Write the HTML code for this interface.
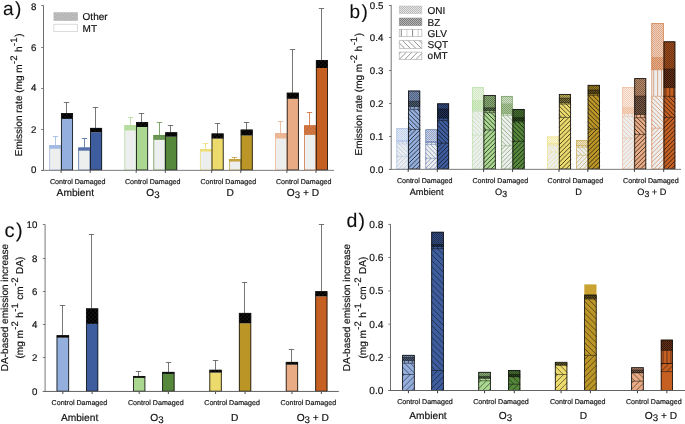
<!DOCTYPE html>
<html><head><meta charset="utf-8"><title>Figure</title>
<style>html,body{margin:0;padding:0;background:#fff}svg{display:block}text{font-family:"Liberation Sans",sans-serif}</style>
</head><body>
<svg width="685" height="424" viewBox="0 0 685 424">
<rect width="685" height="424" fill="#ffffff"/>
<defs>
<filter id="tb" x="-5%" y="-5%" width="110%" height="110%"><feGaussianBlur stdDeviation="0.3"/></filter>
<filter id="gb" filterUnits="userSpaceOnUse" x="0" y="0" width="685" height="424"><feGaussianBlur stdDeviation="0.35"/></filter>
<pattern id="p1" width="4" height="4" patternUnits="userSpaceOnUse"><rect width="4" height="4" fill="#94AFDE"/><circle cx="1" cy="1" r="0.36" fill="#ffffff"/><circle cx="3" cy="3" r="0.36" fill="#ffffff"/></pattern>
<pattern id="p2" width="4" height="4" patternUnits="userSpaceOnUse"><rect width="4" height="4" fill="#050505"/><circle cx="1" cy="1" r="0.33" fill="#94AFDE"/><circle cx="3" cy="3" r="0.33" fill="#94AFDE"/></pattern>
<pattern id="p3" width="4" height="4" patternUnits="userSpaceOnUse"><rect width="4" height="4" fill="#3E5D9E"/><circle cx="1" cy="1" r="0.36" fill="#ffffff"/><circle cx="3" cy="3" r="0.36" fill="#ffffff"/></pattern>
<pattern id="p4" width="4" height="4" patternUnits="userSpaceOnUse"><rect width="4" height="4" fill="#050505"/><circle cx="1" cy="1" r="0.33" fill="#3E5D9E"/><circle cx="3" cy="3" r="0.33" fill="#3E5D9E"/></pattern>
<pattern id="p5" width="4" height="4" patternUnits="userSpaceOnUse"><rect width="4" height="4" fill="#ABD891"/><circle cx="1" cy="1" r="0.36" fill="#ffffff"/><circle cx="3" cy="3" r="0.36" fill="#ffffff"/></pattern>
<pattern id="p6" width="4" height="4" patternUnits="userSpaceOnUse"><rect width="4" height="4" fill="#050505"/><circle cx="1" cy="1" r="0.33" fill="#ABD891"/><circle cx="3" cy="3" r="0.33" fill="#ABD891"/></pattern>
<pattern id="p7" width="4" height="4" patternUnits="userSpaceOnUse"><rect width="4" height="4" fill="#55883A"/><circle cx="1" cy="1" r="0.36" fill="#ffffff"/><circle cx="3" cy="3" r="0.36" fill="#ffffff"/></pattern>
<pattern id="p8" width="4" height="4" patternUnits="userSpaceOnUse"><rect width="4" height="4" fill="#050505"/><circle cx="1" cy="1" r="0.33" fill="#55883A"/><circle cx="3" cy="3" r="0.33" fill="#55883A"/></pattern>
<pattern id="p9" width="4" height="4" patternUnits="userSpaceOnUse"><rect width="4" height="4" fill="#ECDA6C"/><circle cx="1" cy="1" r="0.36" fill="#ffffff"/><circle cx="3" cy="3" r="0.36" fill="#ffffff"/></pattern>
<pattern id="p10" width="4" height="4" patternUnits="userSpaceOnUse"><rect width="4" height="4" fill="#050505"/><circle cx="1" cy="1" r="0.33" fill="#ECDA6C"/><circle cx="3" cy="3" r="0.33" fill="#ECDA6C"/></pattern>
<pattern id="p11" width="4" height="4" patternUnits="userSpaceOnUse"><rect width="4" height="4" fill="#BB9627"/><circle cx="1" cy="1" r="0.36" fill="#ffffff"/><circle cx="3" cy="3" r="0.36" fill="#ffffff"/></pattern>
<pattern id="p12" width="4" height="4" patternUnits="userSpaceOnUse"><rect width="4" height="4" fill="#050505"/><circle cx="1" cy="1" r="0.33" fill="#BB9627"/><circle cx="3" cy="3" r="0.33" fill="#BB9627"/></pattern>
<pattern id="p13" width="4" height="4" patternUnits="userSpaceOnUse"><rect width="4" height="4" fill="#E9AB84"/><circle cx="1" cy="1" r="0.36" fill="#ffffff"/><circle cx="3" cy="3" r="0.36" fill="#ffffff"/></pattern>
<pattern id="p14" width="4" height="4" patternUnits="userSpaceOnUse"><rect width="4" height="4" fill="#050505"/><circle cx="1" cy="1" r="0.33" fill="#E9AB84"/><circle cx="3" cy="3" r="0.33" fill="#E9AB84"/></pattern>
<pattern id="p15" width="4" height="4" patternUnits="userSpaceOnUse"><rect width="4" height="4" fill="#C65F22"/><circle cx="1" cy="1" r="0.36" fill="#ffffff"/><circle cx="3" cy="3" r="0.36" fill="#ffffff"/></pattern>
<pattern id="p16" width="4" height="4" patternUnits="userSpaceOnUse"><rect width="4" height="4" fill="#050505"/><circle cx="1" cy="1" r="0.33" fill="#C65F22"/><circle cx="3" cy="3" r="0.33" fill="#C65F22"/></pattern>
<pattern id="p17" width="3.2" height="3.2" patternUnits="userSpaceOnUse"><rect width="3.2" height="3.2" fill="#c0c0c0"/><circle cx="0.8" cy="0.8" r="0.5" fill="#8c8c8c"/><circle cx="2.4" cy="2.4" r="0.5" fill="#8c8c8c"/></pattern>
<pattern id="p18" width="2" height="2" patternUnits="userSpaceOnUse"><path d="M0,0h1v1h-1z M1,1h1v1h-1z" fill="#94AFDE" fill-opacity="0.56"/><path d="M1,0h1v1h-1z M0,1h1v1h-1z" fill="#94AFDE" fill-opacity="0.28"/></pattern>
<pattern id="p19" width="2" height="2" patternUnits="userSpaceOnUse"><path d="M0,0h1v1h-1z M1,1h1v1h-1z" fill="#94AFDE" fill-opacity="0.76"/><path d="M1,0h1v1h-1z M0,1h1v1h-1z" fill="#94AFDE" fill-opacity="0.5"/></pattern>
<pattern id="p20" width="2" height="2" patternUnits="userSpaceOnUse"><path d="M0,0h1v1h-1z M1,1h1v1h-1z" fill="#000" fill-opacity="0.45"/><path d="M1,0h1v1h-1z M0,1h1v1h-1z" fill="#000" fill-opacity="0.2"/></pattern>
<pattern id="p21" width="2" height="2" patternUnits="userSpaceOnUse"><path d="M0,0h1v1h-1z M1,1h1v1h-1z" fill="#000" fill-opacity="0.74"/><path d="M1,0h1v1h-1z M0,1h1v1h-1z" fill="#000" fill-opacity="0.46"/></pattern>
<pattern id="p22" width="2" height="2" patternUnits="userSpaceOnUse"><path d="M0,0h1v1h-1z M1,1h1v1h-1z" fill="#3E5D9E" fill-opacity="0.56"/><path d="M1,0h1v1h-1z M0,1h1v1h-1z" fill="#3E5D9E" fill-opacity="0.28"/></pattern>
<pattern id="p23" width="2" height="2" patternUnits="userSpaceOnUse"><path d="M0,0h1v1h-1z M1,1h1v1h-1z" fill="#3E5D9E" fill-opacity="0.76"/><path d="M1,0h1v1h-1z M0,1h1v1h-1z" fill="#3E5D9E" fill-opacity="0.5"/></pattern>
<pattern id="p24" width="2" height="2" patternUnits="userSpaceOnUse"><path d="M0,0h1v1h-1z M1,1h1v1h-1z" fill="#000" fill-opacity="0.45"/><path d="M1,0h1v1h-1z M0,1h1v1h-1z" fill="#000" fill-opacity="0.2"/></pattern>
<pattern id="p25" width="2" height="2" patternUnits="userSpaceOnUse"><path d="M0,0h1v1h-1z M1,1h1v1h-1z" fill="#000" fill-opacity="0.74"/><path d="M1,0h1v1h-1z M0,1h1v1h-1z" fill="#000" fill-opacity="0.46"/></pattern>
<pattern id="p26" width="2" height="2" patternUnits="userSpaceOnUse"><path d="M0,0h1v1h-1z M1,1h1v1h-1z" fill="#ABD891" fill-opacity="0.56"/><path d="M1,0h1v1h-1z M0,1h1v1h-1z" fill="#ABD891" fill-opacity="0.28"/></pattern>
<pattern id="p27" width="2" height="2" patternUnits="userSpaceOnUse"><path d="M0,0h1v1h-1z M1,1h1v1h-1z" fill="#ABD891" fill-opacity="0.76"/><path d="M1,0h1v1h-1z M0,1h1v1h-1z" fill="#ABD891" fill-opacity="0.5"/></pattern>
<pattern id="p28" width="2" height="2" patternUnits="userSpaceOnUse"><path d="M0,0h1v1h-1z M1,1h1v1h-1z" fill="#000" fill-opacity="0.45"/><path d="M1,0h1v1h-1z M0,1h1v1h-1z" fill="#000" fill-opacity="0.2"/></pattern>
<pattern id="p29" width="2" height="2" patternUnits="userSpaceOnUse"><path d="M0,0h1v1h-1z M1,1h1v1h-1z" fill="#000" fill-opacity="0.74"/><path d="M1,0h1v1h-1z M0,1h1v1h-1z" fill="#000" fill-opacity="0.46"/></pattern>
<pattern id="p30" width="2" height="2" patternUnits="userSpaceOnUse"><path d="M0,0h1v1h-1z M1,1h1v1h-1z" fill="#55883A" fill-opacity="0.56"/><path d="M1,0h1v1h-1z M0,1h1v1h-1z" fill="#55883A" fill-opacity="0.28"/></pattern>
<pattern id="p31" width="2" height="2" patternUnits="userSpaceOnUse"><path d="M0,0h1v1h-1z M1,1h1v1h-1z" fill="#55883A" fill-opacity="0.76"/><path d="M1,0h1v1h-1z M0,1h1v1h-1z" fill="#55883A" fill-opacity="0.5"/></pattern>
<pattern id="p32" width="2" height="2" patternUnits="userSpaceOnUse"><path d="M0,0h1v1h-1z M1,1h1v1h-1z" fill="#000" fill-opacity="0.45"/><path d="M1,0h1v1h-1z M0,1h1v1h-1z" fill="#000" fill-opacity="0.2"/></pattern>
<pattern id="p33" width="2" height="2" patternUnits="userSpaceOnUse"><path d="M0,0h1v1h-1z M1,1h1v1h-1z" fill="#000" fill-opacity="0.74"/><path d="M1,0h1v1h-1z M0,1h1v1h-1z" fill="#000" fill-opacity="0.46"/></pattern>
<pattern id="p34" width="2" height="2" patternUnits="userSpaceOnUse"><path d="M0,0h1v1h-1z M1,1h1v1h-1z" fill="#ECDA6C" fill-opacity="0.56"/><path d="M1,0h1v1h-1z M0,1h1v1h-1z" fill="#ECDA6C" fill-opacity="0.28"/></pattern>
<pattern id="p35" width="2" height="2" patternUnits="userSpaceOnUse"><path d="M0,0h1v1h-1z M1,1h1v1h-1z" fill="#ECDA6C" fill-opacity="0.76"/><path d="M1,0h1v1h-1z M0,1h1v1h-1z" fill="#ECDA6C" fill-opacity="0.5"/></pattern>
<pattern id="p36" width="2" height="2" patternUnits="userSpaceOnUse"><path d="M0,0h1v1h-1z M1,1h1v1h-1z" fill="#000" fill-opacity="0.45"/><path d="M1,0h1v1h-1z M0,1h1v1h-1z" fill="#000" fill-opacity="0.2"/></pattern>
<pattern id="p37" width="2" height="2" patternUnits="userSpaceOnUse"><path d="M0,0h1v1h-1z M1,1h1v1h-1z" fill="#000" fill-opacity="0.74"/><path d="M1,0h1v1h-1z M0,1h1v1h-1z" fill="#000" fill-opacity="0.46"/></pattern>
<pattern id="p38" width="2" height="2" patternUnits="userSpaceOnUse"><path d="M0,0h1v1h-1z M1,1h1v1h-1z" fill="#BB9627" fill-opacity="0.56"/><path d="M1,0h1v1h-1z M0,1h1v1h-1z" fill="#BB9627" fill-opacity="0.28"/></pattern>
<pattern id="p39" width="2" height="2" patternUnits="userSpaceOnUse"><path d="M0,0h1v1h-1z M1,1h1v1h-1z" fill="#BB9627" fill-opacity="0.76"/><path d="M1,0h1v1h-1z M0,1h1v1h-1z" fill="#BB9627" fill-opacity="0.5"/></pattern>
<pattern id="p40" width="2" height="2" patternUnits="userSpaceOnUse"><path d="M0,0h1v1h-1z M1,1h1v1h-1z" fill="#000" fill-opacity="0.45"/><path d="M1,0h1v1h-1z M0,1h1v1h-1z" fill="#000" fill-opacity="0.2"/></pattern>
<pattern id="p41" width="2" height="2" patternUnits="userSpaceOnUse"><path d="M0,0h1v1h-1z M1,1h1v1h-1z" fill="#000" fill-opacity="0.74"/><path d="M1,0h1v1h-1z M0,1h1v1h-1z" fill="#000" fill-opacity="0.46"/></pattern>
<pattern id="p42" width="2" height="2" patternUnits="userSpaceOnUse"><path d="M0,0h1v1h-1z M1,1h1v1h-1z" fill="#E9AB84" fill-opacity="0.56"/><path d="M1,0h1v1h-1z M0,1h1v1h-1z" fill="#E9AB84" fill-opacity="0.28"/></pattern>
<pattern id="p43" width="2" height="2" patternUnits="userSpaceOnUse"><path d="M0,0h1v1h-1z M1,1h1v1h-1z" fill="#E9AB84" fill-opacity="0.76"/><path d="M1,0h1v1h-1z M0,1h1v1h-1z" fill="#E9AB84" fill-opacity="0.5"/></pattern>
<pattern id="p44" width="2" height="2" patternUnits="userSpaceOnUse"><path d="M0,0h1v1h-1z M1,1h1v1h-1z" fill="#000" fill-opacity="0.45"/><path d="M1,0h1v1h-1z M0,1h1v1h-1z" fill="#000" fill-opacity="0.2"/></pattern>
<pattern id="p45" width="2" height="2" patternUnits="userSpaceOnUse"><path d="M0,0h1v1h-1z M1,1h1v1h-1z" fill="#000" fill-opacity="0.74"/><path d="M1,0h1v1h-1z M0,1h1v1h-1z" fill="#000" fill-opacity="0.46"/></pattern>
<pattern id="p46" width="2" height="2" patternUnits="userSpaceOnUse"><path d="M0,0h1v1h-1z M1,1h1v1h-1z" fill="#C65F22" fill-opacity="0.56"/><path d="M1,0h1v1h-1z M0,1h1v1h-1z" fill="#C65F22" fill-opacity="0.28"/></pattern>
<pattern id="p47" width="2" height="2" patternUnits="userSpaceOnUse"><path d="M0,0h1v1h-1z M1,1h1v1h-1z" fill="#C65F22" fill-opacity="0.76"/><path d="M1,0h1v1h-1z M0,1h1v1h-1z" fill="#C65F22" fill-opacity="0.5"/></pattern>
<pattern id="p48" width="2" height="2" patternUnits="userSpaceOnUse"><path d="M0,0h1v1h-1z M1,1h1v1h-1z" fill="#000" fill-opacity="0.45"/><path d="M1,0h1v1h-1z M0,1h1v1h-1z" fill="#000" fill-opacity="0.2"/></pattern>
<pattern id="p49" width="2" height="2" patternUnits="userSpaceOnUse"><path d="M0,0h1v1h-1z M1,1h1v1h-1z" fill="#000" fill-opacity="0.74"/><path d="M1,0h1v1h-1z M0,1h1v1h-1z" fill="#000" fill-opacity="0.46"/></pattern>
<pattern id="p50" width="2" height="2" patternUnits="userSpaceOnUse"><path d="M0,0h1v1h-1z M1,1h1v1h-1z" fill="#000" fill-opacity="0.27"/><path d="M1,0h1v1h-1z M0,1h1v1h-1z" fill="#000" fill-opacity="0.1"/></pattern>
<pattern id="p51" width="2" height="2" patternUnits="userSpaceOnUse"><path d="M0,0h1v1h-1z M1,1h1v1h-1z" fill="#000" fill-opacity="0.52"/><path d="M1,0h1v1h-1z M0,1h1v1h-1z" fill="#000" fill-opacity="0.28"/></pattern>
<pattern id="p52" width="4" height="4" patternUnits="userSpaceOnUse"><rect width="4" height="4" fill="#050505"/><circle cx="1" cy="1" r="0.33" fill="#94AFDE"/><circle cx="3" cy="3" r="0.33" fill="#94AFDE"/></pattern>
<pattern id="p53" width="4" height="4" patternUnits="userSpaceOnUse"><rect width="4" height="4" fill="#050505"/><circle cx="1" cy="1" r="0.33" fill="#3E5D9E"/><circle cx="3" cy="3" r="0.33" fill="#3E5D9E"/></pattern>
<pattern id="p54" width="4" height="4" patternUnits="userSpaceOnUse"><rect width="4" height="4" fill="#050505"/><circle cx="1" cy="1" r="0.33" fill="#ABD891"/><circle cx="3" cy="3" r="0.33" fill="#ABD891"/></pattern>
<pattern id="p55" width="4" height="4" patternUnits="userSpaceOnUse"><rect width="4" height="4" fill="#050505"/><circle cx="1" cy="1" r="0.33" fill="#55883A"/><circle cx="3" cy="3" r="0.33" fill="#55883A"/></pattern>
<pattern id="p56" width="4" height="4" patternUnits="userSpaceOnUse"><rect width="4" height="4" fill="#050505"/><circle cx="1" cy="1" r="0.33" fill="#ECDA6C"/><circle cx="3" cy="3" r="0.33" fill="#ECDA6C"/></pattern>
<pattern id="p57" width="4" height="4" patternUnits="userSpaceOnUse"><rect width="4" height="4" fill="#050505"/><circle cx="1" cy="1" r="0.33" fill="#BB9627"/><circle cx="3" cy="3" r="0.33" fill="#BB9627"/></pattern>
<pattern id="p58" width="4" height="4" patternUnits="userSpaceOnUse"><rect width="4" height="4" fill="#050505"/><circle cx="1" cy="1" r="0.33" fill="#E9AB84"/><circle cx="3" cy="3" r="0.33" fill="#E9AB84"/></pattern>
<pattern id="p59" width="4" height="4" patternUnits="userSpaceOnUse"><rect width="4" height="4" fill="#050505"/><circle cx="1" cy="1" r="0.33" fill="#C65F22"/><circle cx="3" cy="3" r="0.33" fill="#C65F22"/></pattern>
<pattern id="p60" width="2" height="2" patternUnits="userSpaceOnUse"><path d="M0,0h1v1h-1z M1,1h1v1h-1z" fill="#000" fill-opacity="0.45"/><path d="M1,0h1v1h-1z M0,1h1v1h-1z" fill="#000" fill-opacity="0.2"/></pattern>
<pattern id="p61" width="2" height="2" patternUnits="userSpaceOnUse"><path d="M0,0h1v1h-1z M1,1h1v1h-1z" fill="#000" fill-opacity="0.74"/><path d="M1,0h1v1h-1z M0,1h1v1h-1z" fill="#000" fill-opacity="0.46"/></pattern>
<pattern id="p62" width="2" height="2" patternUnits="userSpaceOnUse"><path d="M0,0h1v1h-1z M1,1h1v1h-1z" fill="#000" fill-opacity="0.45"/><path d="M1,0h1v1h-1z M0,1h1v1h-1z" fill="#000" fill-opacity="0.2"/></pattern>
<pattern id="p63" width="2" height="2" patternUnits="userSpaceOnUse"><path d="M0,0h1v1h-1z M1,1h1v1h-1z" fill="#000" fill-opacity="0.74"/><path d="M1,0h1v1h-1z M0,1h1v1h-1z" fill="#000" fill-opacity="0.46"/></pattern>
<pattern id="p64" width="2" height="2" patternUnits="userSpaceOnUse"><path d="M0,0h1v1h-1z M1,1h1v1h-1z" fill="#000" fill-opacity="0.45"/><path d="M1,0h1v1h-1z M0,1h1v1h-1z" fill="#000" fill-opacity="0.2"/></pattern>
<pattern id="p65" width="2" height="2" patternUnits="userSpaceOnUse"><path d="M0,0h1v1h-1z M1,1h1v1h-1z" fill="#000" fill-opacity="0.74"/><path d="M1,0h1v1h-1z M0,1h1v1h-1z" fill="#000" fill-opacity="0.46"/></pattern>
<pattern id="p66" width="2" height="2" patternUnits="userSpaceOnUse"><path d="M0,0h1v1h-1z M1,1h1v1h-1z" fill="#000" fill-opacity="0.45"/><path d="M1,0h1v1h-1z M0,1h1v1h-1z" fill="#000" fill-opacity="0.2"/></pattern>
<pattern id="p67" width="2" height="2" patternUnits="userSpaceOnUse"><path d="M0,0h1v1h-1z M1,1h1v1h-1z" fill="#000" fill-opacity="0.74"/><path d="M1,0h1v1h-1z M0,1h1v1h-1z" fill="#000" fill-opacity="0.46"/></pattern>
<pattern id="p68" width="2" height="2" patternUnits="userSpaceOnUse"><path d="M0,0h1v1h-1z M1,1h1v1h-1z" fill="#000" fill-opacity="0.45"/><path d="M1,0h1v1h-1z M0,1h1v1h-1z" fill="#000" fill-opacity="0.2"/></pattern>
<pattern id="p69" width="2" height="2" patternUnits="userSpaceOnUse"><path d="M0,0h1v1h-1z M1,1h1v1h-1z" fill="#000" fill-opacity="0.74"/><path d="M1,0h1v1h-1z M0,1h1v1h-1z" fill="#000" fill-opacity="0.46"/></pattern>
<pattern id="p70" width="2" height="2" patternUnits="userSpaceOnUse"><path d="M0,0h1v1h-1z M1,1h1v1h-1z" fill="#000" fill-opacity="0.74"/><path d="M1,0h1v1h-1z M0,1h1v1h-1z" fill="#000" fill-opacity="0.46"/></pattern>
<pattern id="p71" width="2" height="2" patternUnits="userSpaceOnUse"><path d="M0,0h1v1h-1z M1,1h1v1h-1z" fill="#000" fill-opacity="0.45"/><path d="M1,0h1v1h-1z M0,1h1v1h-1z" fill="#000" fill-opacity="0.2"/></pattern>
<pattern id="p72" width="2" height="2" patternUnits="userSpaceOnUse"><path d="M0,0h1v1h-1z M1,1h1v1h-1z" fill="#000" fill-opacity="0.74"/><path d="M1,0h1v1h-1z M0,1h1v1h-1z" fill="#000" fill-opacity="0.46"/></pattern>
<pattern id="p73" width="2" height="2" patternUnits="userSpaceOnUse"><path d="M0,0h1v1h-1z M1,1h1v1h-1z" fill="#000" fill-opacity="0.74"/><path d="M1,0h1v1h-1z M0,1h1v1h-1z" fill="#000" fill-opacity="0.46"/></pattern>
</defs>
<g filter="url(#gb)">
<g opacity="0.93">
<line x1="55.50" y1="136.50" x2="55.50" y2="145.30" stroke="#94AFDE" stroke-width="0.8" />
<line x1="52.80" y1="136.50" x2="58.20" y2="136.50" stroke="#94AFDE" stroke-width="0.8" />
<rect x="49.40" y="148.80" width="11.80" height="21.20" fill="#ECEDED" />
<rect x="49.40" y="145.30" width="11.80" height="3.50" fill="url(#p1)" opacity="0.97"/>
<rect x="49.70" y="145.60" width="11.20" height="24.40" fill="none" stroke="#94AFDE" stroke-width="0.7" />
</g>
<line x1="66.50" y1="102.50" x2="66.50" y2="113.20" stroke="#4a4a4a" stroke-width="0.75" />
<line x1="63.80" y1="102.50" x2="69.20" y2="102.50" stroke="#4a4a4a" stroke-width="0.75" />
<rect x="61.10" y="118.90" width="11.80" height="51.10" fill="#94AFDE" />
<rect x="61.10" y="113.20" width="11.80" height="5.70" fill="url(#p2)" />
<rect x="61.40" y="113.50" width="11.20" height="56.50" fill="none" stroke="#151515" stroke-width="0.85" />
<g opacity="0.93">
<line x1="84.50" y1="138.50" x2="84.50" y2="147.60" stroke="#3E5D9E" stroke-width="0.8" />
<line x1="81.80" y1="138.50" x2="87.20" y2="138.50" stroke="#3E5D9E" stroke-width="0.8" />
<rect x="78.40" y="150.70" width="11.80" height="19.30" fill="#ECEDED" />
<rect x="78.40" y="147.60" width="11.80" height="3.10" fill="url(#p3)" opacity="0.97"/>
<rect x="78.70" y="147.90" width="11.20" height="22.10" fill="none" stroke="#3E5D9E" stroke-width="0.7" />
</g>
<line x1="95.50" y1="107.50" x2="95.50" y2="128.00" stroke="#4a4a4a" stroke-width="0.75" />
<line x1="92.80" y1="107.50" x2="98.20" y2="107.50" stroke="#4a4a4a" stroke-width="0.75" />
<rect x="90.20" y="132.30" width="11.80" height="37.70" fill="#3E5D9E" />
<rect x="90.20" y="128.00" width="11.80" height="4.30" fill="url(#p4)" />
<rect x="90.50" y="128.30" width="11.20" height="41.70" fill="none" stroke="#151515" stroke-width="0.85" />
<g opacity="0.93">
<line x1="130.50" y1="117.50" x2="130.50" y2="125.10" stroke="#ABD891" stroke-width="0.8" />
<line x1="127.80" y1="117.50" x2="133.20" y2="117.50" stroke="#ABD891" stroke-width="0.8" />
<rect x="124.50" y="130.50" width="11.80" height="39.50" fill="#ECEDED" />
<rect x="124.50" y="125.10" width="11.80" height="5.40" fill="url(#p5)" opacity="0.97"/>
<rect x="124.80" y="125.40" width="11.20" height="44.60" fill="none" stroke="#ABD891" stroke-width="0.7" />
</g>
<line x1="141.50" y1="113.50" x2="141.50" y2="122.10" stroke="#4a4a4a" stroke-width="0.75" />
<line x1="138.80" y1="113.50" x2="144.20" y2="113.50" stroke="#4a4a4a" stroke-width="0.75" />
<rect x="136.20" y="127.00" width="11.80" height="43.00" fill="#ABD891" />
<rect x="136.20" y="122.10" width="11.80" height="4.90" fill="url(#p6)" />
<rect x="136.50" y="122.40" width="11.20" height="47.60" fill="none" stroke="#151515" stroke-width="0.85" />
<g opacity="0.93">
<line x1="159.50" y1="122.50" x2="159.50" y2="135.00" stroke="#55883A" stroke-width="0.8" />
<line x1="156.80" y1="122.50" x2="162.20" y2="122.50" stroke="#55883A" stroke-width="0.8" />
<rect x="153.50" y="139.90" width="11.80" height="30.10" fill="#ECEDED" />
<rect x="153.50" y="135.00" width="11.80" height="4.90" fill="url(#p7)" opacity="0.97"/>
<rect x="153.80" y="135.30" width="11.20" height="34.70" fill="none" stroke="#55883A" stroke-width="0.7" />
</g>
<line x1="170.50" y1="125.50" x2="170.50" y2="132.40" stroke="#4a4a4a" stroke-width="0.75" />
<line x1="167.80" y1="125.50" x2="173.20" y2="125.50" stroke="#4a4a4a" stroke-width="0.75" />
<rect x="165.30" y="136.70" width="11.80" height="33.30" fill="#55883A" />
<rect x="165.30" y="132.40" width="11.80" height="4.30" fill="url(#p8)" />
<rect x="165.60" y="132.70" width="11.20" height="37.30" fill="none" stroke="#151515" stroke-width="0.85" />
<g opacity="0.93">
<line x1="205.50" y1="143.50" x2="205.50" y2="149.00" stroke="#ECDA6C" stroke-width="0.8" />
<line x1="202.80" y1="143.50" x2="208.20" y2="143.50" stroke="#ECDA6C" stroke-width="0.8" />
<rect x="200.00" y="151.70" width="11.80" height="18.30" fill="#ECEDED" />
<rect x="200.00" y="149.00" width="11.80" height="2.70" fill="url(#p9)" opacity="0.97"/>
<rect x="200.30" y="149.30" width="11.20" height="20.70" fill="none" stroke="#ECDA6C" stroke-width="0.7" />
</g>
<line x1="217.50" y1="123.50" x2="217.50" y2="133.60" stroke="#4a4a4a" stroke-width="0.75" />
<line x1="214.80" y1="123.50" x2="220.20" y2="123.50" stroke="#4a4a4a" stroke-width="0.75" />
<rect x="211.70" y="138.60" width="11.80" height="31.40" fill="#ECDA6C" />
<rect x="211.70" y="133.60" width="11.80" height="5.00" fill="url(#p10)" />
<rect x="212.00" y="133.90" width="11.20" height="36.10" fill="none" stroke="#151515" stroke-width="0.85" />
<g opacity="0.93">
<line x1="234.50" y1="157.50" x2="234.50" y2="159.10" stroke="#BB9627" stroke-width="0.8" />
<line x1="231.80" y1="157.50" x2="237.20" y2="157.50" stroke="#BB9627" stroke-width="0.8" />
<rect x="229.00" y="161.60" width="11.80" height="8.40" fill="#ECEDED" />
<rect x="229.00" y="159.10" width="11.80" height="2.50" fill="url(#p11)" opacity="0.97"/>
<rect x="229.30" y="159.40" width="11.20" height="10.60" fill="none" stroke="#BB9627" stroke-width="0.7" />
</g>
<line x1="246.50" y1="122.50" x2="246.50" y2="129.70" stroke="#4a4a4a" stroke-width="0.75" />
<line x1="243.80" y1="122.50" x2="249.20" y2="122.50" stroke="#4a4a4a" stroke-width="0.75" />
<rect x="240.80" y="135.50" width="11.80" height="34.50" fill="#BB9627" />
<rect x="240.80" y="129.70" width="11.80" height="5.80" fill="url(#p12)" />
<rect x="241.10" y="130.00" width="11.20" height="40.00" fill="none" stroke="#151515" stroke-width="0.85" />
<g opacity="0.93">
<line x1="280.50" y1="121.50" x2="280.50" y2="133.20" stroke="#E9AB84" stroke-width="0.8" />
<line x1="277.80" y1="121.50" x2="283.20" y2="121.50" stroke="#E9AB84" stroke-width="0.8" />
<rect x="275.20" y="138.60" width="11.80" height="31.40" fill="#ECEDED" />
<rect x="275.20" y="133.20" width="11.80" height="5.40" fill="url(#p13)" opacity="0.97"/>
<rect x="275.50" y="133.50" width="11.20" height="36.50" fill="none" stroke="#E9AB84" stroke-width="0.7" />
</g>
<line x1="292.50" y1="49.50" x2="292.50" y2="92.80" stroke="#4a4a4a" stroke-width="0.75" />
<line x1="289.80" y1="49.50" x2="295.20" y2="49.50" stroke="#4a4a4a" stroke-width="0.75" />
<rect x="286.90" y="98.80" width="11.80" height="71.20" fill="#E9AB84" />
<rect x="286.90" y="92.80" width="11.80" height="6.00" fill="url(#p14)" />
<rect x="287.20" y="93.10" width="11.20" height="76.90" fill="none" stroke="#151515" stroke-width="0.85" />
<g opacity="0.93">
<line x1="309.50" y1="112.50" x2="309.50" y2="125.40" stroke="#C65F22" stroke-width="0.8" />
<line x1="306.80" y1="112.50" x2="312.20" y2="112.50" stroke="#C65F22" stroke-width="0.8" />
<rect x="304.20" y="134.90" width="11.80" height="35.10" fill="#ECEDED" />
<rect x="304.20" y="125.40" width="11.80" height="9.50" fill="url(#p15)" opacity="0.97"/>
<rect x="304.50" y="125.70" width="11.20" height="44.30" fill="none" stroke="#C65F22" stroke-width="0.7" />
</g>
<line x1="321.50" y1="8.50" x2="321.50" y2="60.10" stroke="#4a4a4a" stroke-width="0.75" />
<line x1="318.80" y1="8.50" x2="324.20" y2="8.50" stroke="#4a4a4a" stroke-width="0.75" />
<rect x="316.00" y="68.00" width="11.80" height="102.00" fill="#C65F22" />
<rect x="316.00" y="60.10" width="11.80" height="7.90" fill="url(#p16)" />
<rect x="316.30" y="60.40" width="11.20" height="109.60" fill="none" stroke="#151515" stroke-width="0.85" />
<line x1="43.50" y1="5.40" x2="43.50" y2="170.50" stroke="#6e6e6e" stroke-width="1" />
<line x1="41.20" y1="170.35" x2="334.00" y2="170.35" stroke="#7c7c7c" stroke-width="1" />
<line x1="41.20" y1="5.50" x2="43.50" y2="5.50" stroke="#6e6e6e" stroke-width="0.9" />
<line x1="41.20" y1="47.50" x2="43.50" y2="47.50" stroke="#6e6e6e" stroke-width="0.9" />
<line x1="41.20" y1="88.50" x2="43.50" y2="88.50" stroke="#6e6e6e" stroke-width="0.9" />
<line x1="41.20" y1="129.50" x2="43.50" y2="129.50" stroke="#6e6e6e" stroke-width="0.9" />
<line x1="41.20" y1="170.50" x2="43.50" y2="170.50" stroke="#6e6e6e" stroke-width="0.9" />
<line x1="61.10" y1="170.00" x2="61.10" y2="172.90" stroke="#4a4a4a" stroke-width="1" />
<line x1="90.20" y1="170.00" x2="90.20" y2="172.90" stroke="#4a4a4a" stroke-width="1" />
<line x1="136.20" y1="170.00" x2="136.20" y2="172.90" stroke="#4a4a4a" stroke-width="1" />
<line x1="165.30" y1="170.00" x2="165.30" y2="172.90" stroke="#4a4a4a" stroke-width="1" />
<line x1="211.70" y1="170.00" x2="211.70" y2="172.90" stroke="#4a4a4a" stroke-width="1" />
<line x1="240.80" y1="170.00" x2="240.80" y2="172.90" stroke="#4a4a4a" stroke-width="1" />
<line x1="286.90" y1="170.00" x2="286.90" y2="172.90" stroke="#4a4a4a" stroke-width="1" />
<line x1="316.00" y1="170.00" x2="316.00" y2="172.90" stroke="#4a4a4a" stroke-width="1" />
<rect x="53.90" y="12.60" width="23.70" height="8.00" fill="url(#p17)" stroke="#b0b0b0" stroke-width="0.5" />
<rect x="53.90" y="24.20" width="23.70" height="7.50" fill="#ffffff" stroke="#c4c4c4" stroke-width="0.6" />
<rect x="396.50" y="128.20" width="11.70" height="40.80" fill="#EDEEEE" />
<rect x="396.50" y="128.20" width="11.70" height="11.30" fill="#ffffff" />
<rect x="396.50" y="128.20" width="11.70" height="11.30" fill="url(#p18)" />
<rect x="396.50" y="139.50" width="11.70" height="2.20" fill="#ffffff" />
<rect x="396.50" y="139.50" width="11.70" height="2.20" fill="url(#p19)" />
<path d="M398.70,141.70 V143.90 M402.60,141.70 V143.90 M406.50,141.70 V143.90" stroke="#94AFDE" stroke-width="0.6" stroke-opacity="0.85" fill="none"/>
<path d="M407.90,143.90 L408.20,144.20 M403.50,143.90 L408.20,148.60 M399.10,143.90 L408.20,153.00 M396.50,145.70 L407.20,156.40 M396.50,150.10 L402.80,156.40 M396.50,154.50 L398.40,156.40" stroke="#94AFDE" stroke-width="0.64" stroke-opacity="0.85" fill="none"/>
<path d="M396.50,157.90 L398.00,156.40 M396.50,162.30 L402.40,156.40 M396.50,166.70 L406.80,156.40 M398.60,169.00 L408.20,159.40 M403.00,169.00 L408.20,163.80 M407.40,169.00 L408.20,168.20" stroke="#94AFDE" stroke-width="0.64" stroke-opacity="0.85" fill="none"/>
<line x1="396.50" y1="141.70" x2="408.20" y2="141.70" stroke="#94AFDE" stroke-width="0.6" stroke-opacity="0.6"/>
<line x1="396.50" y1="143.90" x2="408.20" y2="143.90" stroke="#94AFDE" stroke-width="0.6" stroke-opacity="0.6"/>
<line x1="396.50" y1="156.40" x2="408.20" y2="156.40" stroke="#94AFDE" stroke-width="0.6" stroke-opacity="0.6"/>
<rect x="396.80" y="128.50" width="11.10" height="40.50" fill="none" stroke="#94AFDE" stroke-width="0.7" stroke-opacity="0.7"/>
<rect x="408.20" y="90.70" width="11.90" height="78.30" fill="#94AFDE" />
<rect x="408.20" y="90.70" width="11.90" height="10.60" fill="url(#p20)" />
<rect x="408.20" y="101.30" width="11.90" height="5.30" fill="url(#p21)" />
<path d="M410.40,106.60 V109.30 M414.30,106.60 V109.30 M418.20,106.60 V109.30" stroke="#0c0c0c" stroke-width="0.6" stroke-opacity="0.85" fill="none"/>
<path d="M417.30,109.30 L420.10,112.10 M412.90,109.30 L420.10,116.50 M408.50,109.30 L420.10,120.90 M408.20,113.40 L420.10,125.30 M408.20,117.80 L419.90,129.50 M408.20,122.20 L415.50,129.50 M408.20,126.60 L411.10,129.50" stroke="#0c0c0c" stroke-width="0.8" stroke-opacity="0.88" fill="none"/>
<path d="M408.20,133.00 L411.70,129.50 M408.20,137.40 L416.10,129.50 M408.20,141.80 L420.10,129.90 M408.20,146.20 L420.10,134.30 M408.20,150.60 L420.10,138.70 M408.20,155.00 L420.10,143.10 M408.20,159.40 L420.10,147.50 M408.20,163.80 L420.10,151.90 M408.20,168.20 L420.10,156.30 M411.80,169.00 L420.10,160.70 M416.20,169.00 L420.10,165.10" stroke="#0c0c0c" stroke-width="0.8" stroke-opacity="0.88" fill="none"/>
<line x1="408.20" y1="101.30" x2="420.10" y2="101.30" stroke="#0c0c0c" stroke-width="0.6" stroke-opacity="0.85"/>
<line x1="408.20" y1="106.60" x2="420.10" y2="106.60" stroke="#0c0c0c" stroke-width="0.6" stroke-opacity="0.85"/>
<line x1="408.20" y1="109.30" x2="420.10" y2="109.30" stroke="#0c0c0c" stroke-width="0.6" stroke-opacity="0.85"/>
<line x1="408.20" y1="129.50" x2="420.10" y2="129.50" stroke="#0c0c0c" stroke-width="0.6" stroke-opacity="0.85"/>
<rect x="408.50" y="91.00" width="11.30" height="78.00" fill="none" stroke="#121212" stroke-width="0.85" />
<rect x="425.50" y="129.40" width="11.80" height="39.60" fill="#EDEEEE" />
<rect x="425.50" y="129.40" width="11.80" height="11.30" fill="#ffffff" />
<rect x="425.50" y="129.40" width="11.80" height="11.30" fill="url(#p22)" />
<rect x="425.50" y="140.70" width="11.80" height="1.90" fill="#ffffff" />
<rect x="425.50" y="140.70" width="11.80" height="1.90" fill="url(#p23)" />
<path d="M427.70,142.60 V144.50 M431.60,142.60 V144.50 M435.50,142.60 V144.50" stroke="#3E5D9E" stroke-width="0.6" stroke-opacity="0.85" fill="none"/>
<path d="M434.90,144.50 L437.30,146.90 M430.50,144.50 L437.30,151.30 M426.10,144.50 L437.30,155.70 M425.50,148.30 L435.50,158.30 M425.50,152.70 L431.10,158.30 M425.50,157.10 L426.70,158.30" stroke="#3E5D9E" stroke-width="0.64" stroke-opacity="0.85" fill="none"/>
<path d="M425.50,159.70 L426.90,158.30 M425.50,164.10 L431.30,158.30 M425.50,168.50 L435.70,158.30 M429.40,169.00 L437.30,161.10 M433.80,169.00 L437.30,165.50" stroke="#3E5D9E" stroke-width="0.64" stroke-opacity="0.85" fill="none"/>
<line x1="425.50" y1="142.60" x2="437.30" y2="142.60" stroke="#3E5D9E" stroke-width="0.6" stroke-opacity="0.6"/>
<line x1="425.50" y1="144.50" x2="437.30" y2="144.50" stroke="#3E5D9E" stroke-width="0.6" stroke-opacity="0.6"/>
<line x1="425.50" y1="158.30" x2="437.30" y2="158.30" stroke="#3E5D9E" stroke-width="0.6" stroke-opacity="0.6"/>
<rect x="425.80" y="129.70" width="11.20" height="39.30" fill="none" stroke="#3E5D9E" stroke-width="0.7" stroke-opacity="0.7"/>
<rect x="437.30" y="103.50" width="11.70" height="65.50" fill="#3E5D9E" />
<rect x="437.30" y="103.50" width="11.70" height="5.60" fill="url(#p24)" />
<rect x="437.30" y="109.10" width="11.70" height="9.20" fill="url(#p25)" />
<path d="M439.50,118.30 V120.40 M443.40,118.30 V120.40 M447.30,118.30 V120.40" stroke="#0c0c0c" stroke-width="0.6" stroke-opacity="0.85" fill="none"/>
<path d="M446.00,120.40 L449.00,123.40 M441.60,120.40 L449.00,127.80 M437.30,120.50 L449.00,132.20 M437.30,124.90 L449.00,136.60 M437.30,129.30 L449.00,141.00 M437.30,133.70 L446.80,143.20 M437.30,138.10 L442.40,143.20 M437.30,142.50 L438.00,143.20" stroke="#0c0c0c" stroke-width="0.8" stroke-opacity="0.88" fill="none"/>
<path d="M437.30,143.50 L437.60,143.20 M437.30,147.90 L442.00,143.20 M437.30,152.30 L446.40,143.20 M437.30,156.70 L449.00,145.00 M437.30,161.10 L449.00,149.40 M437.30,165.50 L449.00,153.80 M438.20,169.00 L449.00,158.20 M442.60,169.00 L449.00,162.60 M447.00,169.00 L449.00,167.00" stroke="#0c0c0c" stroke-width="0.8" stroke-opacity="0.88" fill="none"/>
<line x1="437.30" y1="109.10" x2="449.00" y2="109.10" stroke="#0c0c0c" stroke-width="0.6" stroke-opacity="0.85"/>
<line x1="437.30" y1="118.30" x2="449.00" y2="118.30" stroke="#0c0c0c" stroke-width="0.6" stroke-opacity="0.85"/>
<line x1="437.30" y1="120.40" x2="449.00" y2="120.40" stroke="#0c0c0c" stroke-width="0.6" stroke-opacity="0.85"/>
<line x1="437.30" y1="143.20" x2="449.00" y2="143.20" stroke="#0c0c0c" stroke-width="0.6" stroke-opacity="0.85"/>
<rect x="437.60" y="103.80" width="11.10" height="65.20" fill="none" stroke="#121212" stroke-width="0.85" />
<rect x="472.00" y="87.20" width="11.60" height="81.80" fill="#EDEEEE" />
<rect x="472.00" y="87.20" width="11.60" height="12.30" fill="#ffffff" />
<rect x="472.00" y="87.20" width="11.60" height="12.30" fill="url(#p26)" />
<rect x="472.00" y="99.50" width="11.60" height="10.70" fill="#ffffff" />
<rect x="472.00" y="99.50" width="11.60" height="10.70" fill="url(#p27)" />
<path d="M474.20,110.20 V111.40 M478.10,110.20 V111.40 M482.00,110.20 V111.40" stroke="#ABD891" stroke-width="0.6" stroke-opacity="0.85" fill="none"/>
<path d="M481.00,111.40 L483.60,114.00 M476.60,111.40 L483.60,118.40 M472.20,111.40 L483.60,122.80 M472.00,115.60 L483.60,127.20 M472.00,120.00 L483.60,131.60 M472.00,124.40 L482.70,135.10 M472.00,128.80 L478.30,135.10 M472.00,133.20 L473.90,135.10" stroke="#ABD891" stroke-width="0.64" stroke-opacity="0.85" fill="none"/>
<path d="M472.00,135.20 L472.10,135.10 M472.00,139.60 L476.50,135.10 M472.00,144.00 L480.90,135.10 M472.00,148.40 L483.60,136.80 M472.00,152.80 L483.60,141.20 M472.00,157.20 L483.60,145.60 M472.00,161.60 L483.60,150.00 M472.00,166.00 L483.60,154.40 M473.40,169.00 L483.60,158.80 M477.80,169.00 L483.60,163.20 M482.20,169.00 L483.60,167.60" stroke="#ABD891" stroke-width="0.64" stroke-opacity="0.85" fill="none"/>
<line x1="472.00" y1="110.20" x2="483.60" y2="110.20" stroke="#ABD891" stroke-width="0.6" stroke-opacity="0.6"/>
<line x1="472.00" y1="111.40" x2="483.60" y2="111.40" stroke="#ABD891" stroke-width="0.6" stroke-opacity="0.6"/>
<line x1="472.00" y1="135.10" x2="483.60" y2="135.10" stroke="#ABD891" stroke-width="0.6" stroke-opacity="0.6"/>
<rect x="472.30" y="87.50" width="11.00" height="81.50" fill="none" stroke="#ABD891" stroke-width="0.7" stroke-opacity="0.7"/>
<rect x="483.60" y="95.10" width="12.00" height="73.90" fill="#ABD891" />
<rect x="483.60" y="95.10" width="12.00" height="12.80" fill="url(#p28)" />
<rect x="483.60" y="107.90" width="12.00" height="2.90" fill="url(#p29)" />
<path d="M485.80,110.80 V112.70 M489.70,110.80 V112.70 M493.60,110.80 V112.70" stroke="#0c0c0c" stroke-width="0.6" stroke-opacity="0.85" fill="none"/>
<path d="M495.50,112.70 L495.60,112.80 M491.10,112.70 L495.60,117.20 M486.70,112.70 L495.60,121.60 M483.60,114.00 L495.60,126.00 M483.60,118.40 L495.20,130.00 M483.60,122.80 L490.80,130.00 M483.60,127.20 L486.40,130.00" stroke="#0c0c0c" stroke-width="0.8" stroke-opacity="0.88" fill="none"/>
<path d="M483.60,132.40 L486.00,130.00 M483.60,136.80 L490.40,130.00 M483.60,141.20 L494.80,130.00 M483.60,145.60 L495.60,133.60 M483.60,150.00 L495.60,138.00 M483.60,154.40 L495.60,142.40 M483.60,158.80 L495.60,146.80 M483.60,163.20 L495.60,151.20 M483.60,167.60 L495.60,155.60 M486.60,169.00 L495.60,160.00 M491.00,169.00 L495.60,164.40 M495.40,169.00 L495.60,168.80" stroke="#0c0c0c" stroke-width="0.8" stroke-opacity="0.88" fill="none"/>
<line x1="483.60" y1="107.90" x2="495.60" y2="107.90" stroke="#0c0c0c" stroke-width="0.6" stroke-opacity="0.85"/>
<line x1="483.60" y1="110.80" x2="495.60" y2="110.80" stroke="#0c0c0c" stroke-width="0.6" stroke-opacity="0.85"/>
<line x1="483.60" y1="112.70" x2="495.60" y2="112.70" stroke="#0c0c0c" stroke-width="0.6" stroke-opacity="0.85"/>
<line x1="483.60" y1="130.00" x2="495.60" y2="130.00" stroke="#0c0c0c" stroke-width="0.6" stroke-opacity="0.85"/>
<rect x="483.90" y="95.40" width="11.40" height="73.60" fill="none" stroke="#121212" stroke-width="0.85" />
<rect x="501.20" y="96.00" width="11.40" height="73.00" fill="#EDEEEE" />
<rect x="501.20" y="96.00" width="11.40" height="7.20" fill="#ffffff" />
<rect x="501.20" y="96.00" width="11.40" height="7.20" fill="url(#p30)" />
<rect x="501.20" y="103.20" width="11.40" height="10.70" fill="#ffffff" />
<rect x="501.20" y="103.20" width="11.40" height="10.70" fill="url(#p31)" />
<path d="M503.40,113.90 V115.40 M507.30,113.90 V115.40 M511.20,113.90 V115.40" stroke="#55883A" stroke-width="0.6" stroke-opacity="0.85" fill="none"/>
<path d="M511.40,115.40 L512.60,116.60 M507.00,115.40 L512.60,121.00 M502.60,115.40 L512.60,125.40 M501.20,118.40 L512.60,129.80 M501.20,122.80 L512.60,134.20 M501.20,127.20 L512.60,138.60 M501.20,131.60 L512.60,143.00 M501.20,136.00 L510.90,145.70 M501.20,140.40 L506.50,145.70 M501.20,144.80 L502.10,145.70" stroke="#55883A" stroke-width="0.64" stroke-opacity="0.85" fill="none"/>
<path d="M501.20,150.00 L505.50,145.70 M501.20,154.40 L509.90,145.70 M501.20,158.80 L512.60,147.40 M501.20,163.20 L512.60,151.80 M501.20,167.60 L512.60,156.20 M504.20,169.00 L512.60,160.60 M508.60,169.00 L512.60,165.00" stroke="#55883A" stroke-width="0.64" stroke-opacity="0.85" fill="none"/>
<line x1="501.20" y1="113.90" x2="512.60" y2="113.90" stroke="#55883A" stroke-width="0.6" stroke-opacity="0.6"/>
<line x1="501.20" y1="115.40" x2="512.60" y2="115.40" stroke="#55883A" stroke-width="0.6" stroke-opacity="0.6"/>
<line x1="501.20" y1="145.70" x2="512.60" y2="145.70" stroke="#55883A" stroke-width="0.6" stroke-opacity="0.6"/>
<rect x="501.50" y="96.30" width="10.80" height="72.70" fill="none" stroke="#55883A" stroke-width="0.7" stroke-opacity="0.7"/>
<rect x="512.60" y="109.10" width="11.90" height="59.90" fill="#55883A" />
<rect x="512.60" y="109.10" width="11.90" height="8.60" fill="url(#p32)" />
<rect x="512.60" y="117.70" width="11.90" height="3.10" fill="url(#p33)" />
<path d="M514.80,120.80 V122.00 M518.70,120.80 V122.00 M522.60,120.80 V122.00" stroke="#0c0c0c" stroke-width="0.6" stroke-opacity="0.85" fill="none"/>
<path d="M522.40,122.00 L524.50,124.10 M518.00,122.00 L524.50,128.50 M513.60,122.00 L524.50,132.90 M512.60,125.40 L524.50,137.30 M512.60,129.80 L524.10,141.30 M512.60,134.20 L519.70,141.30 M512.60,138.60 L515.30,141.30" stroke="#0c0c0c" stroke-width="0.8" stroke-opacity="0.88" fill="none"/>
<path d="M512.60,143.00 L514.30,141.30 M512.60,147.40 L518.70,141.30 M512.60,151.80 L523.10,141.30 M512.60,156.20 L524.50,144.30 M512.60,160.60 L524.50,148.70 M512.60,165.00 L524.50,153.10 M513.00,169.00 L524.50,157.50 M517.40,169.00 L524.50,161.90 M521.80,169.00 L524.50,166.30" stroke="#0c0c0c" stroke-width="0.8" stroke-opacity="0.88" fill="none"/>
<line x1="512.60" y1="117.70" x2="524.50" y2="117.70" stroke="#0c0c0c" stroke-width="0.6" stroke-opacity="0.85"/>
<line x1="512.60" y1="120.80" x2="524.50" y2="120.80" stroke="#0c0c0c" stroke-width="0.6" stroke-opacity="0.85"/>
<line x1="512.60" y1="122.00" x2="524.50" y2="122.00" stroke="#0c0c0c" stroke-width="0.6" stroke-opacity="0.85"/>
<line x1="512.60" y1="141.30" x2="524.50" y2="141.30" stroke="#0c0c0c" stroke-width="0.6" stroke-opacity="0.85"/>
<rect x="512.90" y="109.40" width="11.30" height="59.60" fill="none" stroke="#121212" stroke-width="0.85" />
<rect x="547.30" y="136.60" width="11.70" height="32.40" fill="#EDEEEE" />
<rect x="547.30" y="136.60" width="11.70" height="6.00" fill="#ffffff" />
<rect x="547.30" y="136.60" width="11.70" height="6.00" fill="url(#p34)" />
<rect x="547.30" y="142.60" width="11.70" height="1.60" fill="#ffffff" />
<rect x="547.30" y="142.60" width="11.70" height="1.60" fill="url(#p35)" />
<path d="M549.50,144.20 V145.70 M553.40,144.20 V145.70 M557.30,144.20 V145.70" stroke="#ECDA6C" stroke-width="0.6" stroke-opacity="0.85" fill="none"/>
<path d="M554.90,145.70 L559.00,149.80 M550.50,145.70 L556.80,152.00 M547.30,146.90 L552.40,152.00 M547.30,151.30 L548.00,152.00" stroke="#ECDA6C" stroke-width="0.64" stroke-opacity="0.85" fill="none"/>
<path d="M547.30,152.30 L547.60,152.00 M547.30,156.70 L552.00,152.00 M547.30,161.10 L556.40,152.00 M547.30,165.50 L559.00,153.80 M548.20,169.00 L559.00,158.20 M552.60,169.00 L559.00,162.60 M557.00,169.00 L559.00,167.00" stroke="#ECDA6C" stroke-width="0.64" stroke-opacity="0.85" fill="none"/>
<line x1="547.30" y1="144.20" x2="559.00" y2="144.20" stroke="#ECDA6C" stroke-width="0.6" stroke-opacity="0.6"/>
<line x1="547.30" y1="145.70" x2="559.00" y2="145.70" stroke="#ECDA6C" stroke-width="0.6" stroke-opacity="0.6"/>
<line x1="547.30" y1="152.00" x2="559.00" y2="152.00" stroke="#ECDA6C" stroke-width="0.6" stroke-opacity="0.6"/>
<rect x="547.60" y="136.90" width="11.10" height="32.10" fill="none" stroke="#ECDA6C" stroke-width="0.7" stroke-opacity="0.7"/>
<rect x="559.00" y="94.10" width="11.90" height="74.90" fill="#ECDA6C" />
<rect x="559.00" y="94.10" width="11.90" height="4.10" fill="url(#p36)" />
<rect x="559.00" y="98.20" width="11.90" height="4.70" fill="url(#p37)" />
<path d="M561.20,102.90 V104.10 M565.10,102.90 V104.10 M569.00,102.90 V104.10" stroke="#0c0c0c" stroke-width="0.6" stroke-opacity="0.85" fill="none"/>
<path d="M570.50,104.10 L570.90,104.50 M566.10,104.10 L570.90,108.90 M561.70,104.10 L570.90,113.30 M559.00,105.80 L570.60,117.40 M559.00,110.20 L566.20,117.40 M559.00,114.60 L561.80,117.40" stroke="#0c0c0c" stroke-width="0.8" stroke-opacity="0.88" fill="none"/>
<path d="M559.00,118.60 L560.20,117.40 M559.00,123.00 L564.60,117.40 M559.00,127.40 L569.00,117.40 M559.00,131.80 L570.90,119.90 M559.00,136.20 L570.90,124.30 M559.00,140.60 L570.90,128.70 M559.00,145.00 L570.90,133.10 M559.00,149.40 L570.90,137.50 M559.00,153.80 L570.90,141.90 M559.00,158.20 L570.90,146.30 M559.00,162.60 L570.90,150.70 M559.00,167.00 L570.90,155.10 M561.40,169.00 L570.90,159.50 M565.80,169.00 L570.90,163.90 M570.20,169.00 L570.90,168.30" stroke="#0c0c0c" stroke-width="0.8" stroke-opacity="0.88" fill="none"/>
<line x1="559.00" y1="98.20" x2="570.90" y2="98.20" stroke="#0c0c0c" stroke-width="0.6" stroke-opacity="0.85"/>
<line x1="559.00" y1="102.90" x2="570.90" y2="102.90" stroke="#0c0c0c" stroke-width="0.6" stroke-opacity="0.85"/>
<line x1="559.00" y1="104.10" x2="570.90" y2="104.10" stroke="#0c0c0c" stroke-width="0.6" stroke-opacity="0.85"/>
<line x1="559.00" y1="117.40" x2="570.90" y2="117.40" stroke="#0c0c0c" stroke-width="0.6" stroke-opacity="0.85"/>
<rect x="559.30" y="94.40" width="11.30" height="74.60" fill="none" stroke="#121212" stroke-width="0.85" />
<rect x="576.20" y="140.10" width="11.60" height="28.90" fill="#EDEEEE" />
<rect x="576.20" y="140.10" width="11.60" height="4.40" fill="#ffffff" />
<rect x="576.20" y="140.10" width="11.60" height="4.40" fill="url(#p38)" />
<rect x="576.20" y="144.50" width="11.60" height="1.50" fill="#ffffff" />
<rect x="576.20" y="144.50" width="11.60" height="1.50" fill="url(#p39)" />
<path d="M578.40,146.00 V147.60 M582.30,146.00 V147.60 M586.20,146.00 V147.60" stroke="#BB9627" stroke-width="0.6" stroke-opacity="0.85" fill="none"/>
<path d="M587.60,147.60 L587.80,147.80 M583.20,147.60 L587.80,152.20 M578.80,147.60 L586.40,155.20 M576.20,149.40 L582.00,155.20 M576.20,153.80 L577.60,155.20" stroke="#BB9627" stroke-width="0.64" stroke-opacity="0.85" fill="none"/>
<path d="M576.20,158.60 L579.60,155.20 M576.20,163.00 L584.00,155.20 M576.20,167.40 L587.80,155.80 M579.00,169.00 L587.80,160.20 M583.40,169.00 L587.80,164.60" stroke="#BB9627" stroke-width="0.64" stroke-opacity="0.85" fill="none"/>
<line x1="576.20" y1="146.00" x2="587.80" y2="146.00" stroke="#BB9627" stroke-width="0.6" stroke-opacity="0.6"/>
<line x1="576.20" y1="147.60" x2="587.80" y2="147.60" stroke="#BB9627" stroke-width="0.6" stroke-opacity="0.6"/>
<line x1="576.20" y1="155.20" x2="587.80" y2="155.20" stroke="#BB9627" stroke-width="0.6" stroke-opacity="0.6"/>
<rect x="576.50" y="140.40" width="11.00" height="28.60" fill="none" stroke="#BB9627" stroke-width="0.7" stroke-opacity="0.7"/>
<rect x="587.80" y="85.00" width="12.00" height="84.00" fill="#BB9627" />
<rect x="587.80" y="85.00" width="12.00" height="5.10" fill="url(#p40)" />
<rect x="587.80" y="90.10" width="12.00" height="3.70" fill="url(#p41)" />
<path d="M590.00,93.80 V95.30 M593.90,93.80 V95.30 M597.80,93.80 V95.30" stroke="#0c0c0c" stroke-width="0.6" stroke-opacity="0.85" fill="none"/>
<path d="M596.90,95.30 L599.80,98.20 M592.50,95.30 L599.80,102.60 M588.10,95.30 L599.80,107.00 M587.80,99.40 L599.80,111.40 M587.80,103.80 L599.80,115.80 M587.80,108.20 L599.80,120.20 M587.80,112.60 L599.80,124.60 M587.80,117.00 L599.80,129.00 M587.80,121.40 L595.40,129.00 M587.80,125.80 L591.00,129.00" stroke="#0c0c0c" stroke-width="0.8" stroke-opacity="0.88" fill="none"/>
<path d="M587.80,129.40 L588.20,129.00 M587.80,133.80 L592.60,129.00 M587.80,138.20 L597.00,129.00 M587.80,142.60 L599.80,130.60 M587.80,147.00 L599.80,135.00 M587.80,151.40 L599.80,139.40 M587.80,155.80 L599.80,143.80 M587.80,160.20 L599.80,148.20 M587.80,164.60 L599.80,152.60 M587.80,169.00 L599.80,157.00 M592.20,169.00 L599.80,161.40 M596.60,169.00 L599.80,165.80" stroke="#0c0c0c" stroke-width="0.8" stroke-opacity="0.88" fill="none"/>
<line x1="587.80" y1="90.10" x2="599.80" y2="90.10" stroke="#0c0c0c" stroke-width="0.6" stroke-opacity="0.85"/>
<line x1="587.80" y1="93.80" x2="599.80" y2="93.80" stroke="#0c0c0c" stroke-width="0.6" stroke-opacity="0.85"/>
<line x1="587.80" y1="95.30" x2="599.80" y2="95.30" stroke="#0c0c0c" stroke-width="0.6" stroke-opacity="0.85"/>
<line x1="587.80" y1="129.00" x2="599.80" y2="129.00" stroke="#0c0c0c" stroke-width="0.6" stroke-opacity="0.85"/>
<rect x="588.10" y="85.30" width="11.40" height="83.70" fill="none" stroke="#121212" stroke-width="0.85" />
<rect x="622.20" y="87.30" width="12.20" height="81.70" fill="#EDEEEE" />
<rect x="622.20" y="87.30" width="12.20" height="19.70" fill="#ffffff" />
<rect x="622.20" y="87.30" width="12.20" height="19.70" fill="url(#p42)" />
<rect x="622.20" y="107.00" width="12.20" height="6.60" fill="#ffffff" />
<rect x="622.20" y="107.00" width="12.20" height="6.60" fill="url(#p43)" />
<path d="M624.40,113.60 V116.40 M628.30,113.60 V116.40 M632.20,113.60 V116.40" stroke="#E9AB84" stroke-width="0.6" stroke-opacity="0.85" fill="none"/>
<path d="M631.20,116.40 L634.40,119.60 M626.80,116.40 L634.40,124.00 M622.40,116.40 L634.40,128.40 M622.20,120.60 L634.40,132.80 M622.20,125.00 L634.40,137.20 M622.20,129.40 L631.00,138.20 M622.20,133.80 L626.60,138.20" stroke="#E9AB84" stroke-width="0.64" stroke-opacity="0.85" fill="none"/>
<path d="M622.20,139.00 L623.00,138.20 M622.20,143.40 L627.40,138.20 M622.20,147.80 L631.80,138.20 M622.20,152.20 L634.40,140.00 M622.20,156.60 L634.40,144.40 M622.20,161.00 L634.40,148.80 M622.20,165.40 L634.40,153.20 M623.00,169.00 L634.40,157.60 M627.40,169.00 L634.40,162.00 M631.80,169.00 L634.40,166.40" stroke="#E9AB84" stroke-width="0.64" stroke-opacity="0.85" fill="none"/>
<line x1="622.20" y1="113.60" x2="634.40" y2="113.60" stroke="#E9AB84" stroke-width="0.6" stroke-opacity="0.6"/>
<line x1="622.20" y1="116.40" x2="634.40" y2="116.40" stroke="#E9AB84" stroke-width="0.6" stroke-opacity="0.6"/>
<line x1="622.20" y1="138.20" x2="634.40" y2="138.20" stroke="#E9AB84" stroke-width="0.6" stroke-opacity="0.6"/>
<rect x="622.50" y="87.60" width="11.60" height="81.40" fill="none" stroke="#E9AB84" stroke-width="0.7" stroke-opacity="0.7"/>
<rect x="634.40" y="78.30" width="11.70" height="90.70" fill="#E9AB84" />
<rect x="634.40" y="78.30" width="11.70" height="17.80" fill="url(#p44)" />
<rect x="634.40" y="96.10" width="11.70" height="18.40" fill="url(#p45)" />
<path d="M636.60,114.50 V117.70 M640.50,114.50 V117.70 M644.40,114.50 V117.70" stroke="#0c0c0c" stroke-width="0.6" stroke-opacity="0.85" fill="none"/>
<path d="M645.70,117.70 L646.10,118.10 M641.30,117.70 L646.10,122.50 M636.90,117.70 L646.10,126.90 M634.40,119.60 L646.10,131.30 M634.40,124.00 L644.80,134.40 M634.40,128.40 L640.40,134.40 M634.40,132.80 L636.00,134.40" stroke="#0c0c0c" stroke-width="0.8" stroke-opacity="0.88" fill="none"/>
<path d="M634.40,135.60 L635.60,134.40 M634.40,140.00 L640.00,134.40 M634.40,144.40 L644.40,134.40 M634.40,148.80 L646.10,137.10 M634.40,153.20 L646.10,141.50 M634.40,157.60 L646.10,145.90 M634.40,162.00 L646.10,150.30 M634.40,166.40 L646.10,154.70 M636.20,169.00 L646.10,159.10 M640.60,169.00 L646.10,163.50 M645.00,169.00 L646.10,167.90" stroke="#0c0c0c" stroke-width="0.8" stroke-opacity="0.88" fill="none"/>
<line x1="634.40" y1="96.10" x2="646.10" y2="96.10" stroke="#0c0c0c" stroke-width="0.6" stroke-opacity="0.85"/>
<line x1="634.40" y1="114.50" x2="646.10" y2="114.50" stroke="#0c0c0c" stroke-width="0.6" stroke-opacity="0.85"/>
<line x1="634.40" y1="117.70" x2="646.10" y2="117.70" stroke="#0c0c0c" stroke-width="0.6" stroke-opacity="0.85"/>
<line x1="634.40" y1="134.40" x2="646.10" y2="134.40" stroke="#0c0c0c" stroke-width="0.6" stroke-opacity="0.85"/>
<rect x="634.70" y="78.60" width="11.10" height="90.40" fill="none" stroke="#121212" stroke-width="0.85" />
<rect x="651.50" y="23.20" width="12.20" height="145.80" fill="#EDEEEE" />
<rect x="651.50" y="23.20" width="12.20" height="33.80" fill="#ffffff" />
<rect x="651.50" y="23.20" width="12.20" height="33.80" fill="url(#p46)" />
<rect x="651.50" y="57.00" width="12.20" height="12.80" fill="#ffffff" />
<rect x="651.50" y="57.00" width="12.20" height="12.80" fill="url(#p47)" />
<path d="M653.70,69.80 V96.30 M657.60,69.80 V96.30 M661.50,69.80 V96.30" stroke="#C65F22" stroke-width="0.6" stroke-opacity="0.85" fill="none"/>
<path d="M659.50,96.30 L663.70,100.50 M655.10,96.30 L663.70,104.90 M651.50,97.10 L663.70,109.30 M651.50,101.50 L663.70,113.70 M651.50,105.90 L663.70,118.10 M651.50,110.30 L663.70,122.50 M651.50,114.70 L663.70,126.90 M651.50,119.10 L660.60,128.20 M651.50,123.50 L656.20,128.20 M651.50,127.90 L651.80,128.20" stroke="#C65F22" stroke-width="0.64" stroke-opacity="0.85" fill="none"/>
<path d="M651.50,131.70 L655.00,128.20 M651.50,136.10 L659.40,128.20 M651.50,140.50 L663.70,128.30 M651.50,144.90 L663.70,132.70 M651.50,149.30 L663.70,137.10 M651.50,153.70 L663.70,141.50 M651.50,158.10 L663.70,145.90 M651.50,162.50 L663.70,150.30 M651.50,166.90 L663.70,154.70 M653.80,169.00 L663.70,159.10 M658.20,169.00 L663.70,163.50 M662.60,169.00 L663.70,167.90" stroke="#C65F22" stroke-width="0.64" stroke-opacity="0.85" fill="none"/>
<line x1="651.50" y1="69.80" x2="663.70" y2="69.80" stroke="#C65F22" stroke-width="0.6" stroke-opacity="0.6"/>
<line x1="651.50" y1="96.30" x2="663.70" y2="96.30" stroke="#C65F22" stroke-width="0.6" stroke-opacity="0.6"/>
<line x1="651.50" y1="128.20" x2="663.70" y2="128.20" stroke="#C65F22" stroke-width="0.6" stroke-opacity="0.6"/>
<rect x="651.80" y="23.50" width="11.60" height="145.50" fill="none" stroke="#C65F22" stroke-width="0.7" stroke-opacity="0.7"/>
<rect x="663.70" y="41.50" width="11.50" height="127.50" fill="#C65F22" />
<rect x="663.70" y="41.50" width="11.50" height="27.60" fill="url(#p48)" />
<rect x="663.70" y="69.10" width="11.50" height="18.50" fill="url(#p49)" />
<path d="M665.90,87.60 V96.30 M669.80,87.60 V96.30 M673.70,87.60 V96.30" stroke="#0c0c0c" stroke-width="0.6" stroke-opacity="0.85" fill="none"/>
<path d="M672.70,96.30 L675.20,98.80 M668.30,96.30 L675.20,103.20 M663.90,96.30 L675.20,107.60 M663.70,100.50 L675.20,112.00 M663.70,104.90 L675.20,116.40 M663.70,109.30 L671.80,117.40 M663.70,113.70 L667.40,117.40" stroke="#0c0c0c" stroke-width="0.8" stroke-opacity="0.88" fill="none"/>
<path d="M663.70,119.50 L665.80,117.40 M663.70,123.90 L670.20,117.40 M663.70,128.30 L674.60,117.40 M663.70,132.70 L675.20,121.20 M663.70,137.10 L675.20,125.60 M663.70,141.50 L675.20,130.00 M663.70,145.90 L675.20,134.40 M663.70,150.30 L675.20,138.80 M663.70,154.70 L675.20,143.20 M663.70,159.10 L675.20,147.60 M663.70,163.50 L675.20,152.00 M663.70,167.90 L675.20,156.40 M667.00,169.00 L675.20,160.80 M671.40,169.00 L675.20,165.20" stroke="#0c0c0c" stroke-width="0.8" stroke-opacity="0.88" fill="none"/>
<line x1="663.70" y1="69.10" x2="675.20" y2="69.10" stroke="#0c0c0c" stroke-width="0.6" stroke-opacity="0.85"/>
<line x1="663.70" y1="87.60" x2="675.20" y2="87.60" stroke="#0c0c0c" stroke-width="0.6" stroke-opacity="0.85"/>
<line x1="663.70" y1="96.30" x2="675.20" y2="96.30" stroke="#0c0c0c" stroke-width="0.6" stroke-opacity="0.85"/>
<line x1="663.70" y1="117.40" x2="675.20" y2="117.40" stroke="#0c0c0c" stroke-width="0.6" stroke-opacity="0.85"/>
<rect x="664.00" y="41.80" width="10.90" height="127.20" fill="none" stroke="#121212" stroke-width="0.85" />
<line x1="391.20" y1="5.00" x2="391.20" y2="169.50" stroke="#808080" stroke-width="1.1" />
<line x1="389.20" y1="169.35" x2="681.00" y2="169.35" stroke="#7c7c7c" stroke-width="1" />
<line x1="389.00" y1="5.50" x2="391.20" y2="5.50" stroke="#6e6e6e" stroke-width="0.9" />
<line x1="389.00" y1="37.50" x2="391.20" y2="37.50" stroke="#6e6e6e" stroke-width="0.9" />
<line x1="389.00" y1="70.50" x2="391.20" y2="70.50" stroke="#6e6e6e" stroke-width="0.9" />
<line x1="389.00" y1="103.50" x2="391.20" y2="103.50" stroke="#6e6e6e" stroke-width="0.9" />
<line x1="389.00" y1="136.50" x2="391.20" y2="136.50" stroke="#6e6e6e" stroke-width="0.9" />
<line x1="389.00" y1="169.50" x2="391.20" y2="169.50" stroke="#6e6e6e" stroke-width="0.9" />
<line x1="408.20" y1="169.00" x2="408.20" y2="171.90" stroke="#3a3a3a" stroke-width="1" />
<line x1="437.30" y1="169.00" x2="437.30" y2="171.90" stroke="#3a3a3a" stroke-width="1" />
<line x1="483.60" y1="169.00" x2="483.60" y2="171.90" stroke="#3a3a3a" stroke-width="1" />
<line x1="512.60" y1="169.00" x2="512.60" y2="171.90" stroke="#3a3a3a" stroke-width="1" />
<line x1="559.00" y1="169.00" x2="559.00" y2="171.90" stroke="#3a3a3a" stroke-width="1" />
<line x1="587.80" y1="169.00" x2="587.80" y2="171.90" stroke="#3a3a3a" stroke-width="1" />
<line x1="634.40" y1="169.00" x2="634.40" y2="171.90" stroke="#3a3a3a" stroke-width="1" />
<line x1="663.70" y1="169.00" x2="663.70" y2="171.90" stroke="#3a3a3a" stroke-width="1" />
<rect x="399.20" y="6.00" width="22.70" height="7.60" fill="#fff" />
<rect x="399.20" y="6.00" width="22.70" height="7.60" fill="url(#p50)" stroke="#bbbbbb" stroke-width="0.5" />
<rect x="399.20" y="18.00" width="22.70" height="7.70" fill="#fff" />
<rect x="399.20" y="18.00" width="22.70" height="7.70" fill="url(#p51)" stroke="#8a8a8a" stroke-width="0.5" />
<rect x="399.20" y="29.30" width="22.70" height="7.40" fill="#fff" />
<rect x="399.20" y="40.70" width="22.70" height="7.70" fill="#fff" />
<rect x="399.20" y="52.10" width="22.70" height="7.40" fill="#fff" />
<path d="M401.30,29.30 V36.70 M412.60,29.30 V36.70" stroke="#444" stroke-width="0.7" stroke-opacity="0.9" fill="none"/>
<path d="M406.90,29.30 V36.70 M418.20,29.30 V36.70" stroke="#777" stroke-width="0.9" stroke-opacity="0.38" fill="none"/>
<path d="M419.25,40.70 L421.90,43.35 M413.70,40.70 L421.40,48.40 M408.15,40.70 L415.85,48.40 M402.60,40.70 L410.30,48.40 M399.20,42.85 L404.75,48.40" stroke="#3a3a3a" stroke-width="0.6" stroke-opacity="0.9" fill="none"/>
<path d="M399.20,53.80 L400.90,52.10 M399.20,59.40 L406.50,52.10 M404.70,59.50 L412.10,52.10 M410.30,59.50 L417.70,52.10 M415.90,59.50 L421.90,53.50 M421.50,59.50 L421.90,59.10" stroke="#3a3a3a" stroke-width="0.6" stroke-opacity="0.9" fill="none"/>
<rect x="399.20" y="29.30" width="22.70" height="7.40" fill="none" stroke="#a8a8a8" stroke-width="0.6" />
<rect x="399.20" y="40.70" width="22.70" height="7.70" fill="none" stroke="#a8a8a8" stroke-width="0.6" />
<rect x="399.20" y="52.10" width="22.70" height="7.40" fill="none" stroke="#a8a8a8" stroke-width="0.6" />
<line x1="62.50" y1="305.50" x2="62.50" y2="335.30" stroke="#4a4a4a" stroke-width="0.75" />
<line x1="59.80" y1="305.50" x2="65.20" y2="305.50" stroke="#4a4a4a" stroke-width="0.75" />
<rect x="56.70" y="337.70" width="12.30" height="53.50" fill="#94AFDE" />
<rect x="56.70" y="335.30" width="12.30" height="2.40" fill="url(#p52)" />
<rect x="57.00" y="335.60" width="11.70" height="55.60" fill="none" stroke="#151515" stroke-width="0.85" />
<line x1="62.85" y1="391.20" x2="62.85" y2="394.00" stroke="#4a4a4a" stroke-width="1" />
<line x1="91.50" y1="234.50" x2="91.50" y2="308.50" stroke="#4a4a4a" stroke-width="0.75" />
<line x1="88.80" y1="234.50" x2="94.20" y2="234.50" stroke="#4a4a4a" stroke-width="0.75" />
<rect x="86.10" y="323.90" width="12.00" height="67.30" fill="#3E5D9E" />
<rect x="86.10" y="308.50" width="12.00" height="15.40" fill="url(#p53)" />
<rect x="86.40" y="308.80" width="11.40" height="82.40" fill="none" stroke="#151515" stroke-width="0.85" />
<line x1="92.10" y1="391.20" x2="92.10" y2="394.00" stroke="#4a4a4a" stroke-width="1" />
<line x1="138.50" y1="371.50" x2="138.50" y2="376.10" stroke="#4a4a4a" stroke-width="0.75" />
<line x1="135.80" y1="371.50" x2="141.20" y2="371.50" stroke="#4a4a4a" stroke-width="0.75" />
<rect x="133.20" y="377.90" width="12.00" height="13.30" fill="#ABD891" />
<rect x="133.20" y="376.10" width="12.00" height="1.80" fill="url(#p54)" />
<rect x="133.50" y="376.40" width="11.40" height="14.80" fill="none" stroke="#151515" stroke-width="0.85" />
<line x1="139.20" y1="391.20" x2="139.20" y2="394.00" stroke="#4a4a4a" stroke-width="1" />
<line x1="168.50" y1="362.50" x2="168.50" y2="372.00" stroke="#4a4a4a" stroke-width="0.75" />
<line x1="165.80" y1="362.50" x2="171.20" y2="362.50" stroke="#4a4a4a" stroke-width="0.75" />
<rect x="162.30" y="373.90" width="12.10" height="17.30" fill="#55883A" />
<rect x="162.30" y="372.00" width="12.10" height="1.90" fill="url(#p55)" />
<rect x="162.60" y="372.30" width="11.50" height="18.90" fill="none" stroke="#151515" stroke-width="0.85" />
<line x1="168.35" y1="391.20" x2="168.35" y2="394.00" stroke="#4a4a4a" stroke-width="1" />
<line x1="215.50" y1="360.50" x2="215.50" y2="369.90" stroke="#4a4a4a" stroke-width="0.75" />
<line x1="212.80" y1="360.50" x2="218.20" y2="360.50" stroke="#4a4a4a" stroke-width="0.75" />
<rect x="209.50" y="372.60" width="12.10" height="18.60" fill="#ECDA6C" />
<rect x="209.50" y="369.90" width="12.10" height="2.70" fill="url(#p56)" />
<rect x="209.80" y="370.20" width="11.50" height="21.00" fill="none" stroke="#151515" stroke-width="0.85" />
<line x1="215.55" y1="391.20" x2="215.55" y2="394.00" stroke="#4a4a4a" stroke-width="1" />
<line x1="244.50" y1="282.50" x2="244.50" y2="313.00" stroke="#4a4a4a" stroke-width="0.75" />
<line x1="241.80" y1="282.50" x2="247.20" y2="282.50" stroke="#4a4a4a" stroke-width="0.75" />
<rect x="239.00" y="323.30" width="12.10" height="67.90" fill="#BB9627" />
<rect x="239.00" y="313.00" width="12.10" height="10.30" fill="url(#p57)" />
<rect x="239.30" y="313.30" width="11.50" height="77.90" fill="none" stroke="#151515" stroke-width="0.85" />
<line x1="245.05" y1="391.20" x2="245.05" y2="394.00" stroke="#4a4a4a" stroke-width="1" />
<line x1="291.50" y1="349.50" x2="291.50" y2="362.00" stroke="#4a4a4a" stroke-width="0.75" />
<line x1="288.80" y1="349.50" x2="294.20" y2="349.50" stroke="#4a4a4a" stroke-width="0.75" />
<rect x="285.90" y="364.70" width="12.10" height="26.50" fill="#E9AB84" />
<rect x="285.90" y="362.00" width="12.10" height="2.70" fill="url(#p58)" />
<rect x="286.20" y="362.30" width="11.50" height="28.90" fill="none" stroke="#151515" stroke-width="0.85" />
<line x1="291.95" y1="391.20" x2="291.95" y2="394.00" stroke="#4a4a4a" stroke-width="1" />
<line x1="321.50" y1="224.50" x2="321.50" y2="291.30" stroke="#4a4a4a" stroke-width="0.75" />
<line x1="318.80" y1="224.50" x2="324.20" y2="224.50" stroke="#4a4a4a" stroke-width="0.75" />
<rect x="315.40" y="296.40" width="11.90" height="94.80" fill="#C65F22" />
<rect x="315.40" y="291.30" width="11.90" height="5.10" fill="url(#p59)" />
<rect x="315.70" y="291.60" width="11.30" height="99.60" fill="none" stroke="#151515" stroke-width="0.85" />
<line x1="321.35" y1="391.20" x2="321.35" y2="394.00" stroke="#4a4a4a" stroke-width="1" />
<line x1="45.10" y1="224.60" x2="45.10" y2="391.70" stroke="#858585" stroke-width="1.1" />
<line x1="42.80" y1="391.45" x2="338.80" y2="391.45" stroke="#5c5c5c" stroke-width="0.95" />
<line x1="42.80" y1="224.50" x2="45.20" y2="224.50" stroke="#6e6e6e" stroke-width="0.9" />
<line x1="42.80" y1="258.50" x2="45.20" y2="258.50" stroke="#6e6e6e" stroke-width="0.9" />
<line x1="42.80" y1="291.50" x2="45.20" y2="291.50" stroke="#6e6e6e" stroke-width="0.9" />
<line x1="42.80" y1="324.50" x2="45.20" y2="324.50" stroke="#6e6e6e" stroke-width="0.9" />
<line x1="42.80" y1="357.50" x2="45.20" y2="357.50" stroke="#6e6e6e" stroke-width="0.9" />
<line x1="42.80" y1="391.50" x2="45.20" y2="391.50" stroke="#6e6e6e" stroke-width="0.9" />
<rect x="584.30" y="284.40" width="12.20" height="10.60" fill="#C9A233" />
<rect x="402.30" y="355.00" width="12.30" height="35.40" fill="#94AFDE" />
<rect x="402.30" y="355.00" width="12.30" height="2.50" fill="url(#p60)" />
<rect x="402.30" y="357.50" width="12.30" height="3.20" fill="url(#p61)" />
<path d="M404.50,360.70 V363.20 M408.40,360.70 V363.20 M412.30,360.70 V363.20" stroke="#0c0c0c" stroke-width="0.6" stroke-opacity="0.85" fill="none"/>
<path d="M410.40,363.20 L414.60,367.40 M404.50,363.20 L414.60,373.30 M402.30,366.90 L409.90,374.50 M402.30,372.80 L404.00,374.50" stroke="#0c0c0c" stroke-width="0.6" stroke-opacity="0.88" fill="none"/>
<path d="M402.30,376.50 L404.30,374.50 M402.30,382.40 L410.20,374.50 M402.30,388.30 L414.60,376.00 M406.10,390.40 L414.60,381.90 M412.00,390.40 L414.60,387.80" stroke="#0c0c0c" stroke-width="0.6" stroke-opacity="0.88" fill="none"/>
<line x1="402.30" y1="357.50" x2="414.60" y2="357.50" stroke="#0c0c0c" stroke-width="0.6" stroke-opacity="0.85"/>
<line x1="402.30" y1="360.70" x2="414.60" y2="360.70" stroke="#0c0c0c" stroke-width="0.6" stroke-opacity="0.85"/>
<line x1="402.30" y1="363.20" x2="414.60" y2="363.20" stroke="#0c0c0c" stroke-width="0.6" stroke-opacity="0.85"/>
<line x1="402.30" y1="374.50" x2="414.60" y2="374.50" stroke="#0c0c0c" stroke-width="0.6" stroke-opacity="0.85"/>
<rect x="402.60" y="355.30" width="11.70" height="35.10" fill="none" stroke="#121212" stroke-width="0.85" />
<line x1="408.45" y1="390.40" x2="408.45" y2="393.20" stroke="#3a3a3a" stroke-width="1" />
<rect x="431.40" y="231.90" width="12.30" height="158.50" fill="#3E5D9E" />
<rect x="431.40" y="231.90" width="12.30" height="12.60" fill="url(#p62)" />
<rect x="431.40" y="244.50" width="12.30" height="2.10" fill="url(#p63)" />
<path d="M433.60,246.60 V248.60 M437.50,246.60 V248.60 M441.40,246.60 V248.60" stroke="#0c0c0c" stroke-width="0.6" stroke-opacity="0.85" fill="none"/>
<path d="M443.30,248.60 L443.70,249.00 M437.40,248.60 L443.70,254.90 M431.50,248.60 L443.70,260.80 M431.40,254.40 L443.70,266.70 M431.40,260.30 L443.70,272.60 M431.40,266.20 L443.70,278.50 M431.40,272.10 L443.70,284.40 M431.40,278.00 L443.70,290.30 M431.40,283.90 L443.70,296.20 M431.40,289.80 L443.70,302.10 M431.40,295.70 L443.70,308.00 M431.40,301.60 L443.70,313.90 M431.40,307.50 L443.70,319.80 M431.40,313.40 L443.70,325.70 M431.40,319.30 L443.70,331.60 M431.40,325.20 L443.70,337.50 M431.40,331.10 L443.70,343.40 M431.40,337.00 L443.70,349.30 M431.40,342.90 L443.70,355.20 M431.40,348.80 L443.70,361.10 M431.40,354.70 L443.70,367.00 M431.40,360.60 L441.30,370.50 M431.40,366.50 L435.40,370.50" stroke="#0c0c0c" stroke-width="0.6" stroke-opacity="0.88" fill="none"/>
<path d="M431.40,371.00 L431.90,370.50 M431.40,376.90 L437.80,370.50 M431.40,382.80 L443.70,370.50 M431.40,388.70 L443.70,376.40 M435.60,390.40 L443.70,382.30 M441.50,390.40 L443.70,388.20" stroke="#0c0c0c" stroke-width="0.6" stroke-opacity="0.88" fill="none"/>
<line x1="431.40" y1="244.50" x2="443.70" y2="244.50" stroke="#0c0c0c" stroke-width="0.6" stroke-opacity="0.85"/>
<line x1="431.40" y1="246.60" x2="443.70" y2="246.60" stroke="#0c0c0c" stroke-width="0.6" stroke-opacity="0.85"/>
<line x1="431.40" y1="248.60" x2="443.70" y2="248.60" stroke="#0c0c0c" stroke-width="0.6" stroke-opacity="0.85"/>
<line x1="431.40" y1="370.50" x2="443.70" y2="370.50" stroke="#0c0c0c" stroke-width="0.6" stroke-opacity="0.85"/>
<rect x="431.70" y="232.20" width="11.70" height="158.20" fill="none" stroke="#121212" stroke-width="0.85" />
<line x1="437.55" y1="390.40" x2="437.55" y2="393.20" stroke="#3a3a3a" stroke-width="1" />
<rect x="478.40" y="372.00" width="12.30" height="18.40" fill="#ABD891" />
<rect x="478.40" y="372.00" width="12.30" height="4.40" fill="url(#p64)" />
<rect x="478.40" y="376.40" width="12.30" height="1.50" fill="url(#p65)" />
<path d="M480.60,377.90 V378.40 M484.50,377.90 V378.40 M488.40,377.90 V378.40" stroke="#0c0c0c" stroke-width="0.6" stroke-opacity="0.85" fill="none"/>
<path d="M490.50,378.40 L490.70,378.60 M484.60,378.40 L487.00,380.80 M478.70,378.40 L481.10,380.80" stroke="#0c0c0c" stroke-width="0.6" stroke-opacity="0.88" fill="none"/>
<path d="M478.40,383.00 L480.60,380.80 M478.40,388.90 L486.50,380.80 M482.80,390.40 L490.70,382.50 M488.70,390.40 L490.70,388.40" stroke="#0c0c0c" stroke-width="0.6" stroke-opacity="0.88" fill="none"/>
<line x1="478.40" y1="376.40" x2="490.70" y2="376.40" stroke="#0c0c0c" stroke-width="0.6" stroke-opacity="0.85"/>
<line x1="478.40" y1="377.90" x2="490.70" y2="377.90" stroke="#0c0c0c" stroke-width="0.6" stroke-opacity="0.85"/>
<line x1="478.40" y1="378.40" x2="490.70" y2="378.40" stroke="#0c0c0c" stroke-width="0.6" stroke-opacity="0.85"/>
<line x1="478.40" y1="380.80" x2="490.70" y2="380.80" stroke="#0c0c0c" stroke-width="0.6" stroke-opacity="0.85"/>
<rect x="478.70" y="372.30" width="11.70" height="18.10" fill="none" stroke="#121212" stroke-width="0.85" />
<line x1="484.55" y1="390.40" x2="484.55" y2="393.20" stroke="#3a3a3a" stroke-width="1" />
<rect x="508.30" y="370.10" width="11.90" height="20.30" fill="#55883A" />
<rect x="508.30" y="370.10" width="11.90" height="4.40" fill="url(#p66)" />
<rect x="508.30" y="374.50" width="11.90" height="1.90" fill="url(#p67)" />
<path d="M510.50,376.40 V376.90 M514.40,376.40 V376.90 M518.30,376.40 V376.90" stroke="#0c0c0c" stroke-width="0.6" stroke-opacity="0.85" fill="none"/>
<path d="M518.50,376.90 L520.20,378.60 M512.60,376.90 L519.90,384.20 M508.30,378.50 L514.00,384.20" stroke="#0c0c0c" stroke-width="0.6" stroke-opacity="0.88" fill="none"/>
<path d="M508.30,388.50 L512.60,384.20 M512.30,390.40 L518.50,384.20 M518.20,390.40 L520.20,388.40" stroke="#0c0c0c" stroke-width="0.6" stroke-opacity="0.88" fill="none"/>
<line x1="508.30" y1="374.50" x2="520.20" y2="374.50" stroke="#0c0c0c" stroke-width="0.6" stroke-opacity="0.85"/>
<line x1="508.30" y1="376.40" x2="520.20" y2="376.40" stroke="#0c0c0c" stroke-width="0.6" stroke-opacity="0.85"/>
<line x1="508.30" y1="376.90" x2="520.20" y2="376.90" stroke="#0c0c0c" stroke-width="0.6" stroke-opacity="0.85"/>
<line x1="508.30" y1="384.20" x2="520.20" y2="384.20" stroke="#0c0c0c" stroke-width="0.6" stroke-opacity="0.85"/>
<rect x="508.60" y="370.40" width="11.30" height="20.00" fill="none" stroke="#121212" stroke-width="0.85" />
<line x1="514.25" y1="390.40" x2="514.25" y2="393.20" stroke="#3a3a3a" stroke-width="1" />
<rect x="555.00" y="362.00" width="12.20" height="28.40" fill="#ECDA6C" />
<rect x="555.00" y="362.00" width="12.20" height="1.50" fill="url(#p68)" />
<rect x="555.00" y="363.50" width="12.20" height="1.60" fill="url(#p69)" />
<path d="M565.70,365.10 L567.20,366.60 M559.80,365.10 L567.20,372.50 M555.00,366.20 L563.30,374.50 M555.00,372.10 L557.40,374.50" stroke="#0c0c0c" stroke-width="0.6" stroke-opacity="0.88" fill="none"/>
<path d="M555.00,377.20 L557.70,374.50 M555.00,383.10 L563.60,374.50 M555.00,389.00 L567.20,376.80 M559.50,390.40 L567.20,382.70 M565.40,390.40 L567.20,388.60" stroke="#0c0c0c" stroke-width="0.6" stroke-opacity="0.88" fill="none"/>
<line x1="555.00" y1="363.50" x2="567.20" y2="363.50" stroke="#0c0c0c" stroke-width="0.6" stroke-opacity="0.85"/>
<line x1="555.00" y1="365.10" x2="567.20" y2="365.10" stroke="#0c0c0c" stroke-width="0.6" stroke-opacity="0.85"/>
<line x1="555.00" y1="365.10" x2="567.20" y2="365.10" stroke="#0c0c0c" stroke-width="0.6" stroke-opacity="0.85"/>
<line x1="555.00" y1="374.50" x2="567.20" y2="374.50" stroke="#0c0c0c" stroke-width="0.6" stroke-opacity="0.85"/>
<rect x="555.30" y="362.30" width="11.60" height="28.10" fill="none" stroke="#121212" stroke-width="0.85" />
<line x1="561.10" y1="390.40" x2="561.10" y2="393.20" stroke="#3a3a3a" stroke-width="1" />
<rect x="584.30" y="294.80" width="12.20" height="95.60" fill="#BB9627" />
<rect x="584.30" y="294.80" width="12.20" height="3.40" fill="url(#p70)" />
<path d="M586.50,298.20 V299.00 M590.40,298.20 V299.00 M594.30,298.20 V299.00" stroke="#0c0c0c" stroke-width="0.6" stroke-opacity="0.85" fill="none"/>
<path d="M594.00,299.00 L596.50,301.50 M588.10,299.00 L596.50,307.40 M584.30,301.10 L596.50,313.30 M584.30,307.00 L596.50,319.20 M584.30,312.90 L596.50,325.10 M584.30,318.80 L596.50,331.00 M584.30,324.70 L596.50,336.90 M584.30,330.60 L596.50,342.80 M584.30,336.50 L596.50,348.70 M584.30,342.40 L596.50,354.60 M584.30,348.30 L591.30,355.30 M584.30,354.20 L585.40,355.30" stroke="#0c0c0c" stroke-width="0.6" stroke-opacity="0.88" fill="none"/>
<path d="M584.30,359.70 L588.70,355.30 M584.30,365.60 L594.60,355.30 M584.30,371.50 L596.50,359.30 M584.30,377.40 L596.50,365.20 M584.30,383.30 L596.50,371.10 M584.30,389.20 L596.50,377.00 M589.00,390.40 L596.50,382.90 M594.90,390.40 L596.50,388.80" stroke="#0c0c0c" stroke-width="0.6" stroke-opacity="0.88" fill="none"/>
<line x1="584.30" y1="298.20" x2="596.50" y2="298.20" stroke="#0c0c0c" stroke-width="0.6" stroke-opacity="0.85"/>
<line x1="584.30" y1="299.00" x2="596.50" y2="299.00" stroke="#0c0c0c" stroke-width="0.6" stroke-opacity="0.85"/>
<line x1="584.30" y1="355.30" x2="596.50" y2="355.30" stroke="#0c0c0c" stroke-width="0.6" stroke-opacity="0.85"/>
<rect x="584.60" y="295.10" width="11.60" height="95.30" fill="none" stroke="#121212" stroke-width="0.85" />
<line x1="590.40" y1="390.40" x2="590.40" y2="393.20" stroke="#3a3a3a" stroke-width="1" />
<rect x="631.30" y="367.40" width="12.30" height="23.00" fill="#E9AB84" />
<rect x="631.30" y="367.40" width="12.30" height="2.60" fill="url(#p71)" />
<rect x="631.30" y="370.00" width="12.30" height="2.70" fill="url(#p72)" />
<path d="M638.20,372.70 L643.60,378.10 M632.30,372.70 L640.80,381.20 M631.30,377.60 L634.90,381.20" stroke="#0c0c0c" stroke-width="0.6" stroke-opacity="0.88" fill="none"/>
<path d="M631.30,383.50 L633.60,381.20 M631.30,389.40 L639.50,381.20 M636.20,390.40 L643.60,383.00 M642.10,390.40 L643.60,388.90" stroke="#0c0c0c" stroke-width="0.6" stroke-opacity="0.88" fill="none"/>
<line x1="631.30" y1="370.00" x2="643.60" y2="370.00" stroke="#0c0c0c" stroke-width="0.6" stroke-opacity="0.85"/>
<line x1="631.30" y1="372.70" x2="643.60" y2="372.70" stroke="#0c0c0c" stroke-width="0.6" stroke-opacity="0.85"/>
<line x1="631.30" y1="372.70" x2="643.60" y2="372.70" stroke="#0c0c0c" stroke-width="0.6" stroke-opacity="0.85"/>
<line x1="631.30" y1="381.20" x2="643.60" y2="381.20" stroke="#0c0c0c" stroke-width="0.6" stroke-opacity="0.85"/>
<rect x="631.60" y="367.70" width="11.70" height="22.70" fill="none" stroke="#121212" stroke-width="0.85" />
<line x1="637.45" y1="390.40" x2="637.45" y2="393.20" stroke="#3a3a3a" stroke-width="1" />
<rect x="660.90" y="339.80" width="11.90" height="50.60" fill="#C65F22" />
<rect x="660.90" y="339.80" width="11.90" height="10.60" fill="url(#p73)" />
<path d="M663.10,350.40 V363.50 M667.00,350.40 V363.50 M670.90,350.40 V363.50" stroke="#0c0c0c" stroke-width="0.6" stroke-opacity="0.85" fill="none"/>
<path d="M660.90,365.70 L663.10,363.50 M660.90,371.60 L669.00,363.50 M666.80,371.60 L672.80,365.60 M672.70,371.60 L672.80,371.50" stroke="#0c0c0c" stroke-width="0.6" stroke-opacity="0.88" fill="none"/>
<line x1="660.90" y1="350.40" x2="672.80" y2="350.40" stroke="#0c0c0c" stroke-width="0.6" stroke-opacity="0.85"/>
<line x1="660.90" y1="363.50" x2="672.80" y2="363.50" stroke="#0c0c0c" stroke-width="0.6" stroke-opacity="0.85"/>
<line x1="660.90" y1="363.50" x2="672.80" y2="363.50" stroke="#0c0c0c" stroke-width="0.6" stroke-opacity="0.85"/>
<line x1="660.90" y1="371.60" x2="672.80" y2="371.60" stroke="#0c0c0c" stroke-width="0.6" stroke-opacity="0.85"/>
<rect x="661.20" y="340.10" width="11.30" height="50.30" fill="none" stroke="#121212" stroke-width="0.85" />
<line x1="666.85" y1="390.40" x2="666.85" y2="393.20" stroke="#3a3a3a" stroke-width="1" />
<line x1="390.50" y1="224.00" x2="390.50" y2="390.90" stroke="#6e6e6e" stroke-width="1" />
<line x1="388.30" y1="390.50" x2="685.00" y2="390.50" stroke="#5c5c5c" stroke-width="0.95" />
<line x1="388.30" y1="224.40" x2="390.70" y2="224.40" stroke="#6e6e6e" stroke-width="0.9" />
<line x1="388.30" y1="257.50" x2="390.70" y2="257.50" stroke="#6e6e6e" stroke-width="0.9" />
<line x1="388.30" y1="290.90" x2="390.70" y2="290.90" stroke="#6e6e6e" stroke-width="0.9" />
<line x1="388.30" y1="324.20" x2="390.70" y2="324.20" stroke="#6e6e6e" stroke-width="0.9" />
<line x1="388.30" y1="357.40" x2="390.70" y2="357.40" stroke="#6e6e6e" stroke-width="0.9" />
<line x1="388.30" y1="390.50" x2="390.70" y2="390.50" stroke="#6e6e6e" stroke-width="0.9" />
</g>
<g filter="url(#tb)" text-rendering="geometricPrecision">
<text x="36.30" y="9.75" font-size="9.7" text-anchor="end" font-family="Liberation Sans, sans-serif" fill="#111" stroke="#111" stroke-width="0.18" >8</text>
<text x="36.30" y="50.85" font-size="9.7" text-anchor="end" font-family="Liberation Sans, sans-serif" fill="#111" stroke="#111" stroke-width="0.18" >6</text>
<text x="36.30" y="91.45" font-size="9.7" text-anchor="end" font-family="Liberation Sans, sans-serif" fill="#111" stroke="#111" stroke-width="0.18" >4</text>
<text x="36.30" y="132.75" font-size="9.7" text-anchor="end" font-family="Liberation Sans, sans-serif" fill="#111" stroke="#111" stroke-width="0.18" >2</text>
<text x="36.30" y="173.25" font-size="9.7" text-anchor="end" font-family="Liberation Sans, sans-serif" fill="#111" stroke="#111" stroke-width="0.18" >0</text>
<text x="77.70" y="184.10" font-size="7.1" text-anchor="middle" font-family="Liberation Sans, sans-serif" fill="#111" stroke="#111" stroke-width="0.18" >Control Damaged</text>
<text x="152.70" y="184.10" font-size="7.1" text-anchor="middle" font-family="Liberation Sans, sans-serif" fill="#111" stroke="#111" stroke-width="0.18" >Control Damaged</text>
<text x="228.30" y="184.10" font-size="7.1" text-anchor="middle" font-family="Liberation Sans, sans-serif" fill="#111" stroke="#111" stroke-width="0.18" >Control Damaged</text>
<text x="303.70" y="184.10" font-size="7.1" text-anchor="middle" font-family="Liberation Sans, sans-serif" fill="#111" stroke="#111" stroke-width="0.18" >Control Damaged</text>
<text x="75.30" y="195.80" font-size="10.2" text-anchor="middle" font-family="Liberation Sans, sans-serif" fill="#111" stroke="#111" stroke-width="0.18" >Ambient</text>
<text x="152.90" y="195.80" font-size="10.2" text-anchor="middle" font-family="Liberation Sans, sans-serif" fill="#111" stroke="#111" stroke-width="0.18" >O<tspan dy="1.8" font-size="9.69">3</tspan><tspan dy="-1.8" font-size="10.2">&#8203;</tspan></text>
<text x="230.20" y="195.80" font-size="10.2" text-anchor="middle" font-family="Liberation Sans, sans-serif" fill="#111" stroke="#111" stroke-width="0.18" >D</text>
<text x="303.00" y="195.80" font-size="10.2" text-anchor="middle" font-family="Liberation Sans, sans-serif" fill="#111" stroke="#111" stroke-width="0.18" >O<tspan dy="1.8" font-size="9.69">3</tspan><tspan dy="-1.8" font-size="10.2">&#8203;</tspan> + D</text>
<text transform="translate(22.30,94.80) rotate(-90)" font-size="10" text-anchor="middle" font-family="Liberation Sans, sans-serif" fill="#111" stroke="#111" stroke-width="0.18" >Emission rate (mg m<tspan dx="0.5" dy="-5" font-size="9.5">-2</tspan><tspan dx="0.7" dy="5" font-size="10">&#8203;</tspan> h<tspan dx="0.5" dy="-5" font-size="9.5">-1</tspan><tspan dx="0.7" dy="5" font-size="10">&#8203;</tspan>)</text>
<text x="3.10" y="15.00" font-size="19" text-anchor="start" font-family="Liberation Sans, sans-serif" fill="#111" stroke="#111" stroke-width="0.1" >a<tspan dx="1.3">)</tspan></text>
<text x="82.60" y="20.30" font-size="10" text-anchor="start" font-family="Liberation Sans, sans-serif" fill="#111" stroke="#111" stroke-width="0.18" >Other</text>
<text x="82.60" y="31.60" font-size="10" text-anchor="start" font-family="Liberation Sans, sans-serif" fill="#111" stroke="#111" stroke-width="0.18" >MT</text>
<text x="383.30" y="8.75" font-size="9.7" text-anchor="end" font-family="Liberation Sans, sans-serif" fill="#111" stroke="#111" stroke-width="0.18" >0.5</text>
<text x="383.30" y="41.15" font-size="9.7" text-anchor="end" font-family="Liberation Sans, sans-serif" fill="#111" stroke="#111" stroke-width="0.18" >0.4</text>
<text x="383.30" y="74.05" font-size="9.7" text-anchor="end" font-family="Liberation Sans, sans-serif" fill="#111" stroke="#111" stroke-width="0.18" >0.3</text>
<text x="383.30" y="106.85" font-size="9.7" text-anchor="end" font-family="Liberation Sans, sans-serif" fill="#111" stroke="#111" stroke-width="0.18" >0.2</text>
<text x="383.30" y="139.75" font-size="9.7" text-anchor="end" font-family="Liberation Sans, sans-serif" fill="#111" stroke="#111" stroke-width="0.18" >0.1</text>
<text x="383.30" y="172.65" font-size="9.7" text-anchor="end" font-family="Liberation Sans, sans-serif" fill="#111" stroke="#111" stroke-width="0.18" >0.0</text>
<text x="424.70" y="183.00" font-size="7.1" text-anchor="middle" font-family="Liberation Sans, sans-serif" fill="#111" stroke="#111" stroke-width="0.18" >Control Damaged</text>
<text x="500.30" y="183.00" font-size="7.1" text-anchor="middle" font-family="Liberation Sans, sans-serif" fill="#111" stroke="#111" stroke-width="0.18" >Control Damaged</text>
<text x="575.40" y="183.00" font-size="7.1" text-anchor="middle" font-family="Liberation Sans, sans-serif" fill="#111" stroke="#111" stroke-width="0.18" >Control Damaged</text>
<text x="650.90" y="183.00" font-size="7.1" text-anchor="middle" font-family="Liberation Sans, sans-serif" fill="#111" stroke="#111" stroke-width="0.18" >Control Damaged</text>
<text x="426.60" y="195.00" font-size="9.2" text-anchor="middle" font-family="Liberation Sans, sans-serif" fill="#111" stroke="#111" stroke-width="0.18" >Ambient</text>
<text x="501.10" y="195.00" font-size="9.2" text-anchor="middle" font-family="Liberation Sans, sans-serif" fill="#111" stroke="#111" stroke-width="0.18" >O<tspan dy="1.8" font-size="8.74">3</tspan><tspan dy="-1.8" font-size="9.2">&#8203;</tspan></text>
<text x="578.60" y="195.30" font-size="9.2" text-anchor="middle" font-family="Liberation Sans, sans-serif" fill="#111" stroke="#111" stroke-width="0.18" >D</text>
<text x="651.80" y="195.00" font-size="9.2" text-anchor="middle" font-family="Liberation Sans, sans-serif" fill="#111" stroke="#111" stroke-width="0.18" >O<tspan dy="1.8" font-size="8.74">3</tspan><tspan dy="-1.8" font-size="9.2">&#8203;</tspan> + D</text>
<text transform="translate(361.50,94.20) rotate(-90)" font-size="10" text-anchor="middle" font-family="Liberation Sans, sans-serif" fill="#111" stroke="#111" stroke-width="0.18" >Emission rate (mg m<tspan dx="0.5" dy="-5" font-size="9.5">-2</tspan><tspan dx="0.7" dy="5" font-size="10">&#8203;</tspan> h<tspan dx="0.5" dy="-5" font-size="9.5">-1</tspan><tspan dx="0.7" dy="5" font-size="10">&#8203;</tspan>)</text>
<text x="349.60" y="17.60" font-size="19" text-anchor="start" font-family="Liberation Sans, sans-serif" fill="#111" stroke="#111" stroke-width="0.1" >b<tspan dx="1.3">)</tspan></text>
<text x="427.60" y="13.50" font-size="10" text-anchor="start" font-family="Liberation Sans, sans-serif" fill="#111" stroke="#111" stroke-width="0.18" >ONI</text>
<text x="427.60" y="25.60" font-size="10" text-anchor="start" font-family="Liberation Sans, sans-serif" fill="#111" stroke="#111" stroke-width="0.18" >BZ</text>
<text x="427.60" y="36.60" font-size="10" text-anchor="start" font-family="Liberation Sans, sans-serif" fill="#111" stroke="#111" stroke-width="0.18" >GLV</text>
<text x="427.60" y="48.30" font-size="10" text-anchor="start" font-family="Liberation Sans, sans-serif" fill="#111" stroke="#111" stroke-width="0.18" >SQT</text>
<text x="427.60" y="59.40" font-size="10" text-anchor="start" font-family="Liberation Sans, sans-serif" fill="#111" stroke="#111" stroke-width="0.18" >oMT</text>
<text x="37.30" y="227.85" font-size="9.7" text-anchor="end" font-family="Liberation Sans, sans-serif" fill="#111" stroke="#111" stroke-width="0.18" >10</text>
<text x="37.30" y="261.85" font-size="9.7" text-anchor="end" font-family="Liberation Sans, sans-serif" fill="#111" stroke="#111" stroke-width="0.18" >8</text>
<text x="37.30" y="294.85" font-size="9.7" text-anchor="end" font-family="Liberation Sans, sans-serif" fill="#111" stroke="#111" stroke-width="0.18" >6</text>
<text x="37.30" y="327.85" font-size="9.7" text-anchor="end" font-family="Liberation Sans, sans-serif" fill="#111" stroke="#111" stroke-width="0.18" >4</text>
<text x="37.30" y="360.85" font-size="9.7" text-anchor="end" font-family="Liberation Sans, sans-serif" fill="#111" stroke="#111" stroke-width="0.18" >2</text>
<text x="37.30" y="394.85" font-size="9.7" text-anchor="end" font-family="Liberation Sans, sans-serif" fill="#111" stroke="#111" stroke-width="0.18" >0</text>
<text x="79.40" y="404.50" font-size="7.1" text-anchor="middle" font-family="Liberation Sans, sans-serif" fill="#111" stroke="#111" stroke-width="0.18" >Control Damaged</text>
<text x="155.80" y="404.50" font-size="7.1" text-anchor="middle" font-family="Liberation Sans, sans-serif" fill="#111" stroke="#111" stroke-width="0.18" >Control Damaged</text>
<text x="232.10" y="404.50" font-size="7.1" text-anchor="middle" font-family="Liberation Sans, sans-serif" fill="#111" stroke="#111" stroke-width="0.18" >Control Damaged</text>
<text x="308.30" y="404.50" font-size="7.1" text-anchor="middle" font-family="Liberation Sans, sans-serif" fill="#111" stroke="#111" stroke-width="0.18" >Control Damaged</text>
<text x="79.60" y="421.00" font-size="10.2" text-anchor="middle" font-family="Liberation Sans, sans-serif" fill="#111" stroke="#111" stroke-width="0.18" >Ambient</text>
<text x="156.90" y="421.00" font-size="10.2" text-anchor="middle" font-family="Liberation Sans, sans-serif" fill="#111" stroke="#111" stroke-width="0.18" >O<tspan dy="1.8" font-size="9.69">3</tspan><tspan dy="-1.8" font-size="10.2">&#8203;</tspan></text>
<text x="234.70" y="421.00" font-size="10.2" text-anchor="middle" font-family="Liberation Sans, sans-serif" fill="#111" stroke="#111" stroke-width="0.18" >D</text>
<text x="312.80" y="421.00" font-size="10.2" text-anchor="middle" font-family="Liberation Sans, sans-serif" fill="#111" stroke="#111" stroke-width="0.18" >O<tspan dy="1.8" font-size="9.69">3</tspan><tspan dy="-1.8" font-size="10.2">&#8203;</tspan> + D</text>
<text transform="translate(8.30,307.50) rotate(-90)" font-size="10" text-anchor="middle" font-family="Liberation Sans, sans-serif" fill="#111" stroke="#111" stroke-width="0.18" >DA-based emission increase</text>
<text transform="translate(23.00,307.60) rotate(-90)" font-size="10" text-anchor="middle" font-family="Liberation Sans, sans-serif" fill="#111" stroke="#111" stroke-width="0.18" >(mg m<tspan dx="0.5" dy="-5" font-size="9.5">-2</tspan><tspan dx="0.7" dy="5" font-size="10">&#8203;</tspan> h<tspan dx="0.5" dy="-5" font-size="9.5">-1</tspan><tspan dx="0.7" dy="5" font-size="10">&#8203;</tspan> cm<tspan dx="0.5" dy="-5" font-size="9.5">-2</tspan><tspan dx="0.7" dy="5" font-size="10">&#8203;</tspan> DA)</text>
<text x="4.60" y="236.90" font-size="20" text-anchor="start" font-family="Liberation Sans, sans-serif" fill="#111" stroke="#111" stroke-width="0.1" >c<tspan dx="1.3">)</tspan></text>
<text x="383.40" y="227.90" font-size="10.2" text-anchor="end" font-family="Liberation Sans, sans-serif" fill="#111" stroke="#111" stroke-width="0.18" >0.8</text>
<text x="383.40" y="261.00" font-size="10.2" text-anchor="end" font-family="Liberation Sans, sans-serif" fill="#111" stroke="#111" stroke-width="0.18" >0.6</text>
<text x="383.40" y="294.40" font-size="10.2" text-anchor="end" font-family="Liberation Sans, sans-serif" fill="#111" stroke="#111" stroke-width="0.18" >0.5</text>
<text x="383.40" y="327.70" font-size="10.2" text-anchor="end" font-family="Liberation Sans, sans-serif" fill="#111" stroke="#111" stroke-width="0.18" >0.4</text>
<text x="383.40" y="360.90" font-size="10.2" text-anchor="end" font-family="Liberation Sans, sans-serif" fill="#111" stroke="#111" stroke-width="0.18" >0.2</text>
<text x="383.40" y="394.00" font-size="10.2" text-anchor="end" font-family="Liberation Sans, sans-serif" fill="#111" stroke="#111" stroke-width="0.18" >0.0</text>
<text x="425.00" y="404.30" font-size="7.1" text-anchor="middle" font-family="Liberation Sans, sans-serif" fill="#111" stroke="#111" stroke-width="0.18" >Control Damaged</text>
<text x="501.00" y="404.30" font-size="7.1" text-anchor="middle" font-family="Liberation Sans, sans-serif" fill="#111" stroke="#111" stroke-width="0.18" >Control Damaged</text>
<text x="577.70" y="404.30" font-size="7.1" text-anchor="middle" font-family="Liberation Sans, sans-serif" fill="#111" stroke="#111" stroke-width="0.18" >Control Damaged</text>
<text x="653.80" y="404.30" font-size="7.1" text-anchor="middle" font-family="Liberation Sans, sans-serif" fill="#111" stroke="#111" stroke-width="0.18" >Control Damaged</text>
<text x="428.00" y="418.90" font-size="10.2" text-anchor="middle" font-family="Liberation Sans, sans-serif" fill="#111" stroke="#111" stroke-width="0.18" >Ambient</text>
<text x="505.50" y="418.90" font-size="10.2" text-anchor="middle" font-family="Liberation Sans, sans-serif" fill="#111" stroke="#111" stroke-width="0.18" >O<tspan dy="1.8" font-size="9.69">3</tspan><tspan dy="-1.8" font-size="10.2">&#8203;</tspan></text>
<text x="583.40" y="418.90" font-size="10.2" text-anchor="middle" font-family="Liberation Sans, sans-serif" fill="#111" stroke="#111" stroke-width="0.18" >D</text>
<text x="660.90" y="418.90" font-size="10.2" text-anchor="middle" font-family="Liberation Sans, sans-serif" fill="#111" stroke="#111" stroke-width="0.18" >O<tspan dy="1.8" font-size="9.69">3</tspan><tspan dy="-1.8" font-size="10.2">&#8203;</tspan> + D</text>
<text transform="translate(349.90,307.50) rotate(-90)" font-size="10" text-anchor="middle" font-family="Liberation Sans, sans-serif" fill="#111" stroke="#111" stroke-width="0.18" >DA-based emission increase</text>
<text transform="translate(365.60,307.60) rotate(-90)" font-size="10" text-anchor="middle" font-family="Liberation Sans, sans-serif" fill="#111" stroke="#111" stroke-width="0.18" >(mg m<tspan dx="0.5" dy="-5" font-size="9.5">-2</tspan><tspan dx="0.7" dy="5" font-size="10">&#8203;</tspan> h<tspan dx="0.5" dy="-5" font-size="9.5">-1</tspan><tspan dx="0.7" dy="5" font-size="10">&#8203;</tspan> cm<tspan dx="0.5" dy="-5" font-size="9.5">-2</tspan><tspan dx="0.7" dy="5" font-size="10">&#8203;</tspan> DA)</text>
<text x="346.40" y="226.80" font-size="19.5" text-anchor="start" font-family="Liberation Sans, sans-serif" fill="#111" stroke="#111" stroke-width="0.1" >d<tspan dx="1.3">)</tspan></text>
</g>
</svg>
</body></html>
